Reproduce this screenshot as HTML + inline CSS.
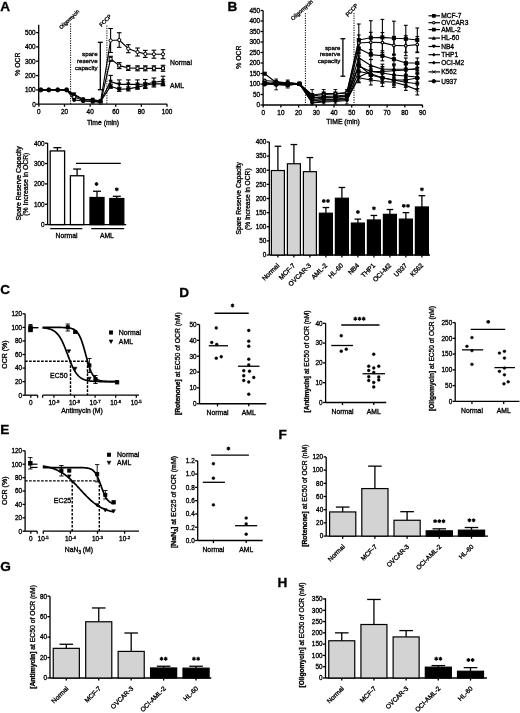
<!DOCTYPE html>
<html><head><meta charset="utf-8"><style>
html,body{margin:0;padding:0;background:#fff;overflow:hidden;}
#w{will-change:transform;width:520px;height:713px;}
svg{display:block;}
text{font-family:"Liberation Sans",sans-serif;fill:#000;stroke:#000;stroke-width:0.32px;}
</style></head><body><div id="w">
<svg width="520" height="713" viewBox="0 0 520 713">
<rect width="520" height="713" fill="#fff"/>
<text x="0.2" y="1.5" font-size="13.6" text-anchor="start" dy="0.72em" font-weight="bold">A</text>
<line x1="38.7" y1="24.8" x2="38.7" y2="104.2" stroke="#000" stroke-width="1.3"/>
<line x1="36.1" y1="104.2" x2="38.7" y2="104.2" stroke="#000" stroke-width="1.3"/>
<text x="35.7" y="104.2" font-size="6.4" text-anchor="end" dy="0.36em">0</text>
<line x1="36.1" y1="89.88" x2="38.7" y2="89.88" stroke="#000" stroke-width="1.3"/>
<text x="35.7" y="89.88" font-size="6.4" text-anchor="end" dy="0.36em">100</text>
<line x1="36.1" y1="75.56" x2="38.7" y2="75.56" stroke="#000" stroke-width="1.3"/>
<text x="35.7" y="75.56" font-size="6.4" text-anchor="end" dy="0.36em">200</text>
<line x1="36.1" y1="61.24" x2="38.7" y2="61.24" stroke="#000" stroke-width="1.3"/>
<text x="35.7" y="61.24" font-size="6.4" text-anchor="end" dy="0.36em">300</text>
<line x1="36.1" y1="46.92" x2="38.7" y2="46.92" stroke="#000" stroke-width="1.3"/>
<text x="35.7" y="46.92" font-size="6.4" text-anchor="end" dy="0.36em">400</text>
<line x1="36.1" y1="32.6" x2="38.7" y2="32.6" stroke="#000" stroke-width="1.3"/>
<text x="35.7" y="32.6" font-size="6.4" text-anchor="end" dy="0.36em">500</text>
<line x1="38.7" y1="104.2" x2="167.2" y2="104.2" stroke="#000" stroke-width="1.3"/>
<line x1="38.9" y1="104.2" x2="38.9" y2="106.8" stroke="#000" stroke-width="1.3"/>
<text x="38.9" y="111.4" font-size="6.4" text-anchor="middle" dy="0.36em">0</text>
<line x1="64.52" y1="104.2" x2="64.52" y2="106.8" stroke="#000" stroke-width="1.3"/>
<text x="64.52" y="111.4" font-size="6.4" text-anchor="middle" dy="0.36em">20</text>
<line x1="90.14" y1="104.2" x2="90.14" y2="106.8" stroke="#000" stroke-width="1.3"/>
<text x="90.14" y="111.4" font-size="6.4" text-anchor="middle" dy="0.36em">40</text>
<line x1="115.76" y1="104.2" x2="115.76" y2="106.8" stroke="#000" stroke-width="1.3"/>
<text x="115.76" y="111.4" font-size="6.4" text-anchor="middle" dy="0.36em">60</text>
<line x1="141.38" y1="104.2" x2="141.38" y2="106.8" stroke="#000" stroke-width="1.3"/>
<text x="141.38" y="111.4" font-size="6.4" text-anchor="middle" dy="0.36em">80</text>
<line x1="167" y1="104.2" x2="167" y2="106.8" stroke="#000" stroke-width="1.3"/>
<text x="167" y="111.4" font-size="6.4" text-anchor="middle" dy="0.36em">100</text>
<text x="103" y="122.4" font-size="6.8" text-anchor="middle" dy="0.36em">Time (min)</text>
<text x="0" y="0" font-size="6.8" text-anchor="middle" dy="0.36em" transform="translate(17.3,64.2) rotate(-90)">% OCR</text>
<line x1="70.6" y1="23.5" x2="70.6" y2="104.2" stroke="#000" stroke-width="1" stroke-dasharray="1.2,1.2"/>
<line x1="106.9" y1="25.5" x2="106.9" y2="104.2" stroke="#000" stroke-width="1" stroke-dasharray="1.2,1.2"/>
<text x="0" y="0" font-size="5.2" text-anchor="start" dy="0" transform="translate(61.2,29.6) rotate(-44)">Oligomycin</text>
<text x="0" y="0" font-size="5.4" text-anchor="start" dy="0" transform="translate(101.5,27) rotate(-45)">FCCP</text>
<line x1="100.3" y1="42.3" x2="100.3" y2="89.7" stroke="#000" stroke-width="1.3"/>
<line x1="97.8" y1="42.3" x2="102.8" y2="42.3" stroke="#000" stroke-width="1.3"/>
<line x1="97.8" y1="89.7" x2="102.8" y2="89.7" stroke="#000" stroke-width="1.3"/>
<text x="97.6" y="54.2" font-size="6.2" text-anchor="end" dy="0.36em">spare</text>
<text x="97.6" y="61.2" font-size="6.2" text-anchor="end" dy="0.36em">reserve</text>
<text x="97.6" y="68" font-size="6.2" text-anchor="end" dy="0.36em">capacity</text>
<text x="170" y="62.6" font-size="6.8" text-anchor="start" dy="0.36em">Normal</text>
<text x="170" y="85.8" font-size="6.8" text-anchor="start" dy="0.36em">AML</text>
<polyline points="40.8,89.88 48.8,89.88 57.7,89.88 66.6,89.88 74.2,95.5 83.2,99.2 92.7,100.2 100.6,101.5 110.6,40.5 119.2,40 128.3,48.7 137.5,52 145.3,53.9 153.9,54.2 163,54.2" fill="none" stroke="#000" stroke-width="1.15" stroke-linejoin="round"/>
<line x1="110.6" y1="28.5" x2="110.6" y2="52.5" stroke="#000" stroke-width="1.1"/>
<line x1="108.3" y1="28.5" x2="112.9" y2="28.5" stroke="#000" stroke-width="1.1"/>
<line x1="108.3" y1="52.5" x2="112.9" y2="52.5" stroke="#000" stroke-width="1.1"/>
<line x1="119.2" y1="32.7" x2="119.2" y2="47.3" stroke="#000" stroke-width="1.1"/>
<line x1="116.9" y1="32.7" x2="121.5" y2="32.7" stroke="#000" stroke-width="1.1"/>
<line x1="116.9" y1="47.3" x2="121.5" y2="47.3" stroke="#000" stroke-width="1.1"/>
<line x1="128.3" y1="44.7" x2="128.3" y2="52.7" stroke="#000" stroke-width="1.1"/>
<line x1="126" y1="44.7" x2="130.6" y2="44.7" stroke="#000" stroke-width="1.1"/>
<line x1="126" y1="52.7" x2="130.6" y2="52.7" stroke="#000" stroke-width="1.1"/>
<line x1="137.5" y1="48" x2="137.5" y2="56" stroke="#000" stroke-width="1.1"/>
<line x1="135.2" y1="48" x2="139.8" y2="48" stroke="#000" stroke-width="1.1"/>
<line x1="135.2" y1="56" x2="139.8" y2="56" stroke="#000" stroke-width="1.1"/>
<line x1="145.3" y1="50.4" x2="145.3" y2="57.4" stroke="#000" stroke-width="1.1"/>
<line x1="143" y1="50.4" x2="147.6" y2="50.4" stroke="#000" stroke-width="1.1"/>
<line x1="143" y1="57.4" x2="147.6" y2="57.4" stroke="#000" stroke-width="1.1"/>
<line x1="153.9" y1="50.2" x2="153.9" y2="58.2" stroke="#000" stroke-width="1.1"/>
<line x1="151.6" y1="50.2" x2="156.2" y2="50.2" stroke="#000" stroke-width="1.1"/>
<line x1="151.6" y1="58.2" x2="156.2" y2="58.2" stroke="#000" stroke-width="1.1"/>
<line x1="163" y1="49.7" x2="163" y2="58.7" stroke="#000" stroke-width="1.1"/>
<line x1="160.7" y1="49.7" x2="165.3" y2="49.7" stroke="#000" stroke-width="1.1"/>
<line x1="160.7" y1="58.7" x2="165.3" y2="58.7" stroke="#000" stroke-width="1.1"/>
<polyline points="40.8,89.88 48.8,89.88 57.7,89.88 66.6,89.88 74.2,97 83.2,100.5 92.7,101.5 100.6,102.5 110.6,58.8 119.2,65.6 128.3,67.9 137.5,68.3 145.3,68.3 153.9,68.3 163,68.3" fill="none" stroke="#000" stroke-width="1.15" stroke-linejoin="round"/>
<line x1="110.6" y1="56.3" x2="110.6" y2="61.3" stroke="#000" stroke-width="1.1"/>
<line x1="108.3" y1="56.3" x2="112.9" y2="56.3" stroke="#000" stroke-width="1.1"/>
<line x1="108.3" y1="61.3" x2="112.9" y2="61.3" stroke="#000" stroke-width="1.1"/>
<line x1="119.2" y1="62.6" x2="119.2" y2="68.6" stroke="#000" stroke-width="1.1"/>
<line x1="116.9" y1="62.6" x2="121.5" y2="62.6" stroke="#000" stroke-width="1.1"/>
<line x1="116.9" y1="68.6" x2="121.5" y2="68.6" stroke="#000" stroke-width="1.1"/>
<line x1="128.3" y1="65.4" x2="128.3" y2="70.4" stroke="#000" stroke-width="1.1"/>
<line x1="126" y1="65.4" x2="130.6" y2="65.4" stroke="#000" stroke-width="1.1"/>
<line x1="126" y1="70.4" x2="130.6" y2="70.4" stroke="#000" stroke-width="1.1"/>
<line x1="137.5" y1="65.8" x2="137.5" y2="70.8" stroke="#000" stroke-width="1.1"/>
<line x1="135.2" y1="65.8" x2="139.8" y2="65.8" stroke="#000" stroke-width="1.1"/>
<line x1="135.2" y1="70.8" x2="139.8" y2="70.8" stroke="#000" stroke-width="1.1"/>
<line x1="145.3" y1="65.8" x2="145.3" y2="70.8" stroke="#000" stroke-width="1.1"/>
<line x1="143" y1="65.8" x2="147.6" y2="65.8" stroke="#000" stroke-width="1.1"/>
<line x1="143" y1="70.8" x2="147.6" y2="70.8" stroke="#000" stroke-width="1.1"/>
<line x1="153.9" y1="65.8" x2="153.9" y2="70.8" stroke="#000" stroke-width="1.1"/>
<line x1="151.6" y1="65.8" x2="156.2" y2="65.8" stroke="#000" stroke-width="1.1"/>
<line x1="151.6" y1="70.8" x2="156.2" y2="70.8" stroke="#000" stroke-width="1.1"/>
<line x1="163" y1="65.3" x2="163" y2="71.3" stroke="#000" stroke-width="1.1"/>
<line x1="160.7" y1="65.3" x2="165.3" y2="65.3" stroke="#000" stroke-width="1.1"/>
<line x1="160.7" y1="71.3" x2="165.3" y2="71.3" stroke="#000" stroke-width="1.1"/>
<polyline points="40.8,89.88 48.8,89.88 57.7,89.88 66.6,89.88 74.2,94.3 83.2,99.5 92.7,99.6 100.6,101 110.6,81.6 119.2,84.4 128.3,84.4 137.5,84.4 145.3,84 153.9,82.5 163,80.7" fill="none" stroke="#000" stroke-width="1.15" stroke-linejoin="round"/>
<line x1="110.6" y1="75.4" x2="110.6" y2="87.8" stroke="#000" stroke-width="1.1"/>
<line x1="108.3" y1="75.4" x2="112.9" y2="75.4" stroke="#000" stroke-width="1.1"/>
<line x1="108.3" y1="87.8" x2="112.9" y2="87.8" stroke="#000" stroke-width="1.1"/>
<line x1="119.2" y1="79.9" x2="119.2" y2="88.9" stroke="#000" stroke-width="1.1"/>
<line x1="116.9" y1="79.9" x2="121.5" y2="79.9" stroke="#000" stroke-width="1.1"/>
<line x1="116.9" y1="88.9" x2="121.5" y2="88.9" stroke="#000" stroke-width="1.1"/>
<line x1="128.3" y1="79.9" x2="128.3" y2="88.9" stroke="#000" stroke-width="1.1"/>
<line x1="126" y1="79.9" x2="130.6" y2="79.9" stroke="#000" stroke-width="1.1"/>
<line x1="126" y1="88.9" x2="130.6" y2="88.9" stroke="#000" stroke-width="1.1"/>
<line x1="137.5" y1="79.9" x2="137.5" y2="88.9" stroke="#000" stroke-width="1.1"/>
<line x1="135.2" y1="79.9" x2="139.8" y2="79.9" stroke="#000" stroke-width="1.1"/>
<line x1="135.2" y1="88.9" x2="139.8" y2="88.9" stroke="#000" stroke-width="1.1"/>
<line x1="145.3" y1="79.5" x2="145.3" y2="88.5" stroke="#000" stroke-width="1.1"/>
<line x1="143" y1="79.5" x2="147.6" y2="79.5" stroke="#000" stroke-width="1.1"/>
<line x1="143" y1="88.5" x2="147.6" y2="88.5" stroke="#000" stroke-width="1.1"/>
<line x1="153.9" y1="78" x2="153.9" y2="87" stroke="#000" stroke-width="1.1"/>
<line x1="151.6" y1="78" x2="156.2" y2="78" stroke="#000" stroke-width="1.1"/>
<line x1="151.6" y1="87" x2="156.2" y2="87" stroke="#000" stroke-width="1.1"/>
<line x1="163" y1="76.2" x2="163" y2="85.2" stroke="#000" stroke-width="1.1"/>
<line x1="160.7" y1="76.2" x2="165.3" y2="76.2" stroke="#000" stroke-width="1.1"/>
<line x1="160.7" y1="85.2" x2="165.3" y2="85.2" stroke="#000" stroke-width="1.1"/>
<polyline points="40.8,89.88 48.8,89.88 57.7,89.88 66.6,89.88 74.2,100 83.2,101 92.7,101.5 100.6,101.5 110.6,86.2 119.2,89.3 128.3,88.9 137.5,87.1 145.3,85.3 153.9,83.8 163,83.8" fill="none" stroke="#000" stroke-width="1.15" stroke-linejoin="round"/>
<line x1="110.6" y1="84.2" x2="110.6" y2="88.2" stroke="#000" stroke-width="1.1"/>
<line x1="108.3" y1="84.2" x2="112.9" y2="84.2" stroke="#000" stroke-width="1.1"/>
<line x1="108.3" y1="88.2" x2="112.9" y2="88.2" stroke="#000" stroke-width="1.1"/>
<line x1="119.2" y1="87.3" x2="119.2" y2="91.3" stroke="#000" stroke-width="1.1"/>
<line x1="116.9" y1="87.3" x2="121.5" y2="87.3" stroke="#000" stroke-width="1.1"/>
<line x1="116.9" y1="91.3" x2="121.5" y2="91.3" stroke="#000" stroke-width="1.1"/>
<line x1="128.3" y1="86.9" x2="128.3" y2="90.9" stroke="#000" stroke-width="1.1"/>
<line x1="126" y1="86.9" x2="130.6" y2="86.9" stroke="#000" stroke-width="1.1"/>
<line x1="126" y1="90.9" x2="130.6" y2="90.9" stroke="#000" stroke-width="1.1"/>
<line x1="137.5" y1="85.1" x2="137.5" y2="89.1" stroke="#000" stroke-width="1.1"/>
<line x1="135.2" y1="85.1" x2="139.8" y2="85.1" stroke="#000" stroke-width="1.1"/>
<line x1="135.2" y1="89.1" x2="139.8" y2="89.1" stroke="#000" stroke-width="1.1"/>
<line x1="145.3" y1="83.3" x2="145.3" y2="87.3" stroke="#000" stroke-width="1.1"/>
<line x1="143" y1="83.3" x2="147.6" y2="83.3" stroke="#000" stroke-width="1.1"/>
<line x1="143" y1="87.3" x2="147.6" y2="87.3" stroke="#000" stroke-width="1.1"/>
<line x1="153.9" y1="81.8" x2="153.9" y2="85.8" stroke="#000" stroke-width="1.1"/>
<line x1="151.6" y1="81.8" x2="156.2" y2="81.8" stroke="#000" stroke-width="1.1"/>
<line x1="151.6" y1="85.8" x2="156.2" y2="85.8" stroke="#000" stroke-width="1.1"/>
<line x1="163" y1="81.8" x2="163" y2="85.8" stroke="#000" stroke-width="1.1"/>
<line x1="160.7" y1="81.8" x2="165.3" y2="81.8" stroke="#000" stroke-width="1.1"/>
<line x1="160.7" y1="85.8" x2="165.3" y2="85.8" stroke="#000" stroke-width="1.1"/>
<circle cx="40.8" cy="89.88" r="2.1" fill="#000" stroke="#000" stroke-width="0.9"/>
<circle cx="48.8" cy="89.88" r="2.1" fill="#000" stroke="#000" stroke-width="0.9"/>
<circle cx="57.7" cy="89.88" r="2.1" fill="#000" stroke="#000" stroke-width="0.9"/>
<circle cx="66.6" cy="89.88" r="2.1" fill="#000" stroke="#000" stroke-width="0.9"/>
<circle cx="74.2" cy="95.5" r="1.6" fill="#fff" stroke="#000" stroke-width="1"/>
<circle cx="83.2" cy="99.2" r="1.6" fill="#fff" stroke="#000" stroke-width="1"/>
<circle cx="92.7" cy="100.2" r="1.6" fill="#fff" stroke="#000" stroke-width="1"/>
<circle cx="100.6" cy="101.5" r="1.6" fill="#fff" stroke="#000" stroke-width="1"/>
<circle cx="110.6" cy="40.5" r="1.6" fill="#fff" stroke="#000" stroke-width="1"/>
<circle cx="119.2" cy="40" r="1.6" fill="#fff" stroke="#000" stroke-width="1"/>
<circle cx="128.3" cy="48.7" r="1.6" fill="#fff" stroke="#000" stroke-width="1"/>
<circle cx="137.5" cy="52" r="1.6" fill="#fff" stroke="#000" stroke-width="1"/>
<circle cx="145.3" cy="53.9" r="1.6" fill="#fff" stroke="#000" stroke-width="1"/>
<circle cx="153.9" cy="54.2" r="1.6" fill="#fff" stroke="#000" stroke-width="1"/>
<circle cx="163" cy="54.2" r="1.6" fill="#fff" stroke="#000" stroke-width="1"/>
<rect x="72.75" y="95.55" width="2.9" height="2.9" fill="#fff" stroke="#000" stroke-width="1"/>
<rect x="81.75" y="99.05" width="2.9" height="2.9" fill="#fff" stroke="#000" stroke-width="1"/>
<rect x="91.25" y="100.05" width="2.9" height="2.9" fill="#fff" stroke="#000" stroke-width="1"/>
<rect x="99.15" y="101.05" width="2.9" height="2.9" fill="#fff" stroke="#000" stroke-width="1"/>
<rect x="109.15" y="57.35" width="2.9" height="2.9" fill="#fff" stroke="#000" stroke-width="1"/>
<rect x="117.75" y="64.15" width="2.9" height="2.9" fill="#fff" stroke="#000" stroke-width="1"/>
<rect x="126.85" y="66.45" width="2.9" height="2.9" fill="#fff" stroke="#000" stroke-width="1"/>
<rect x="136.05" y="66.85" width="2.9" height="2.9" fill="#fff" stroke="#000" stroke-width="1"/>
<rect x="143.85" y="66.85" width="2.9" height="2.9" fill="#fff" stroke="#000" stroke-width="1"/>
<rect x="152.45" y="66.85" width="2.9" height="2.9" fill="#fff" stroke="#000" stroke-width="1"/>
<rect x="161.55" y="66.85" width="2.9" height="2.9" fill="#fff" stroke="#000" stroke-width="1"/>
<path d="M72.4 92.68L76 92.68L74.2 95.92Z" fill="#000" stroke="#000" stroke-width="0.6"/>
<path d="M81.4 97.88L85 97.88L83.2 101.12Z" fill="#000" stroke="#000" stroke-width="0.6"/>
<path d="M90.9 97.98L94.5 97.98L92.7 101.22Z" fill="#000" stroke="#000" stroke-width="0.6"/>
<path d="M98.8 99.38L102.4 99.38L100.6 102.62Z" fill="#000" stroke="#000" stroke-width="0.6"/>
<path d="M108.8 79.98L112.4 79.98L110.6 83.22Z" fill="#000" stroke="#000" stroke-width="0.6"/>
<path d="M117.4 82.78L121 82.78L119.2 86.02Z" fill="#000" stroke="#000" stroke-width="0.6"/>
<path d="M126.5 82.78L130.1 82.78L128.3 86.02Z" fill="#000" stroke="#000" stroke-width="0.6"/>
<path d="M135.7 82.78L139.3 82.78L137.5 86.02Z" fill="#000" stroke="#000" stroke-width="0.6"/>
<path d="M143.5 82.38L147.1 82.38L145.3 85.62Z" fill="#000" stroke="#000" stroke-width="0.6"/>
<path d="M152.1 80.88L155.7 80.88L153.9 84.12Z" fill="#000" stroke="#000" stroke-width="0.6"/>
<path d="M161.2 79.08L164.8 79.08L163 82.32Z" fill="#000" stroke="#000" stroke-width="0.6"/>
<circle cx="74.2" cy="100" r="1.6" fill="#000" stroke="#000" stroke-width="0.9"/>
<circle cx="83.2" cy="101" r="1.6" fill="#000" stroke="#000" stroke-width="0.9"/>
<circle cx="92.7" cy="101.5" r="1.6" fill="#000" stroke="#000" stroke-width="0.9"/>
<circle cx="100.6" cy="101.5" r="1.6" fill="#000" stroke="#000" stroke-width="0.9"/>
<circle cx="110.6" cy="86.2" r="1.6" fill="#000" stroke="#000" stroke-width="0.9"/>
<circle cx="119.2" cy="89.3" r="1.6" fill="#000" stroke="#000" stroke-width="0.9"/>
<circle cx="128.3" cy="88.9" r="1.6" fill="#000" stroke="#000" stroke-width="0.9"/>
<circle cx="137.5" cy="87.1" r="1.6" fill="#000" stroke="#000" stroke-width="0.9"/>
<circle cx="145.3" cy="85.3" r="1.6" fill="#000" stroke="#000" stroke-width="0.9"/>
<circle cx="153.9" cy="83.8" r="1.6" fill="#000" stroke="#000" stroke-width="0.9"/>
<circle cx="163" cy="83.8" r="1.6" fill="#000" stroke="#000" stroke-width="0.9"/>
<line x1="47.6" y1="143" x2="47.6" y2="224.6" stroke="#000" stroke-width="1.3"/>
<line x1="45" y1="224.6" x2="47.6" y2="224.6" stroke="#000" stroke-width="1.3"/>
<text x="44.6" y="224.6" font-size="6.4" text-anchor="end" dy="0.36em">0</text>
<line x1="45" y1="204.25" x2="47.6" y2="204.25" stroke="#000" stroke-width="1.3"/>
<text x="44.6" y="204.25" font-size="6.4" text-anchor="end" dy="0.36em">100</text>
<line x1="45" y1="183.9" x2="47.6" y2="183.9" stroke="#000" stroke-width="1.3"/>
<text x="44.6" y="183.9" font-size="6.4" text-anchor="end" dy="0.36em">200</text>
<line x1="45" y1="163.55" x2="47.6" y2="163.55" stroke="#000" stroke-width="1.3"/>
<text x="44.6" y="163.55" font-size="6.4" text-anchor="end" dy="0.36em">300</text>
<line x1="45" y1="143.2" x2="47.6" y2="143.2" stroke="#000" stroke-width="1.3"/>
<text x="44.6" y="143.2" font-size="6.4" text-anchor="end" dy="0.36em">400</text>
<line x1="47.6" y1="224.6" x2="126.2" y2="224.6" stroke="#000" stroke-width="1.3"/>
<line x1="57.4" y1="150.93" x2="57.4" y2="147.68" stroke="#000" stroke-width="1.3"/>
<line x1="53.4" y1="147.68" x2="61.4" y2="147.68" stroke="#000" stroke-width="1.3"/>
<rect x="50.2" y="150.93" width="14.4" height="73.67" fill="#fff" stroke="#000" stroke-width="1.3"/>
<line x1="77.1" y1="175.76" x2="77.1" y2="169.04" stroke="#000" stroke-width="1.3"/>
<line x1="73.1" y1="169.04" x2="81.1" y2="169.04" stroke="#000" stroke-width="1.3"/>
<rect x="70.4" y="175.76" width="13.4" height="48.84" fill="#fff" stroke="#000" stroke-width="1.3"/>
<line x1="97" y1="197.53" x2="97" y2="191.23" stroke="#000" stroke-width="1.3"/>
<line x1="93" y1="191.23" x2="101" y2="191.23" stroke="#000" stroke-width="1.3"/>
<rect x="90" y="197.53" width="14" height="27.07" fill="#000" stroke="#000" stroke-width="1.3"/>
<line x1="116.8" y1="198.55" x2="116.8" y2="196.31" stroke="#000" stroke-width="1.3"/>
<line x1="112.8" y1="196.31" x2="120.8" y2="196.31" stroke="#000" stroke-width="1.3"/>
<rect x="109.8" y="198.55" width="14" height="26.05" fill="#000" stroke="#000" stroke-width="1.3"/>
<line x1="76" y1="163.3" x2="120.8" y2="163.3" stroke="#000" stroke-width="1.2"/>
<line x1="96.5" y1="182.1" x2="96.5" y2="185.9" stroke="#000" stroke-width="1.25"/>
<line x1="94.85" y1="183.05" x2="98.15" y2="184.95" stroke="#000" stroke-width="1.25"/>
<line x1="94.85" y1="184.95" x2="98.15" y2="183.05" stroke="#000" stroke-width="1.25"/>
<line x1="116.8" y1="187.4" x2="116.8" y2="191.2" stroke="#000" stroke-width="1.25"/>
<line x1="115.15" y1="188.35" x2="118.45" y2="190.25" stroke="#000" stroke-width="1.25"/>
<line x1="115.15" y1="190.25" x2="118.45" y2="188.35" stroke="#000" stroke-width="1.25"/>
<line x1="50.2" y1="228.6" x2="82.3" y2="228.6" stroke="#000" stroke-width="1.3"/>
<line x1="91.2" y1="228.6" x2="124.2" y2="228.6" stroke="#000" stroke-width="1.3"/>
<text x="66.5" y="235.8" font-size="6.8" text-anchor="middle" dy="0.36em">Normal</text>
<text x="106.9" y="235.8" font-size="6.8" text-anchor="middle" dy="0.36em">AML</text>
<text x="0" y="0" font-size="6.85" text-anchor="middle" dy="0.36em" transform="translate(18.4,183.4) rotate(-90)">Spare Reserve Capacity</text>
<text x="0" y="0" font-size="6.85" text-anchor="middle" dy="0.36em" transform="translate(26,184.2) rotate(-90)">(% Increase in OCR)</text>
<text x="227.5" y="1" font-size="13.6" text-anchor="start" dy="0.72em" font-weight="bold">B</text>
<line x1="263.1" y1="10.5" x2="263.1" y2="105" stroke="#000" stroke-width="1.3"/>
<line x1="260.5" y1="105" x2="263.1" y2="105" stroke="#000" stroke-width="1.3"/>
<text x="260.1" y="105" font-size="6.4" text-anchor="end" dy="0.36em">0</text>
<line x1="260.5" y1="94.5" x2="263.1" y2="94.5" stroke="#000" stroke-width="1.3"/>
<text x="260.1" y="94.5" font-size="6.4" text-anchor="end" dy="0.36em">50</text>
<line x1="260.5" y1="84" x2="263.1" y2="84" stroke="#000" stroke-width="1.3"/>
<text x="260.1" y="84" font-size="6.4" text-anchor="end" dy="0.36em">100</text>
<line x1="260.5" y1="73.5" x2="263.1" y2="73.5" stroke="#000" stroke-width="1.3"/>
<text x="260.1" y="73.5" font-size="6.4" text-anchor="end" dy="0.36em">150</text>
<line x1="260.5" y1="63" x2="263.1" y2="63" stroke="#000" stroke-width="1.3"/>
<text x="260.1" y="63" font-size="6.4" text-anchor="end" dy="0.36em">200</text>
<line x1="260.5" y1="52.5" x2="263.1" y2="52.5" stroke="#000" stroke-width="1.3"/>
<text x="260.1" y="52.5" font-size="6.4" text-anchor="end" dy="0.36em">250</text>
<line x1="260.5" y1="42" x2="263.1" y2="42" stroke="#000" stroke-width="1.3"/>
<text x="260.1" y="42" font-size="6.4" text-anchor="end" dy="0.36em">300</text>
<line x1="260.5" y1="31.5" x2="263.1" y2="31.5" stroke="#000" stroke-width="1.3"/>
<text x="260.1" y="31.5" font-size="6.4" text-anchor="end" dy="0.36em">350</text>
<line x1="260.5" y1="21" x2="263.1" y2="21" stroke="#000" stroke-width="1.3"/>
<text x="260.1" y="21" font-size="6.4" text-anchor="end" dy="0.36em">400</text>
<line x1="260.5" y1="10.5" x2="263.1" y2="10.5" stroke="#000" stroke-width="1.3"/>
<text x="260.1" y="10.5" font-size="6.4" text-anchor="end" dy="0.36em">450</text>
<line x1="263.1" y1="105" x2="422.6" y2="105" stroke="#000" stroke-width="1.3"/>
<line x1="263.2" y1="105" x2="263.2" y2="107.6" stroke="#000" stroke-width="1.3"/>
<text x="263.2" y="112.2" font-size="6.4" text-anchor="middle" dy="0.36em">0</text>
<line x1="280.9" y1="105" x2="280.9" y2="107.6" stroke="#000" stroke-width="1.3"/>
<text x="280.9" y="112.2" font-size="6.4" text-anchor="middle" dy="0.36em">10</text>
<line x1="298.6" y1="105" x2="298.6" y2="107.6" stroke="#000" stroke-width="1.3"/>
<text x="298.6" y="112.2" font-size="6.4" text-anchor="middle" dy="0.36em">20</text>
<line x1="316.3" y1="105" x2="316.3" y2="107.6" stroke="#000" stroke-width="1.3"/>
<text x="316.3" y="112.2" font-size="6.4" text-anchor="middle" dy="0.36em">30</text>
<line x1="334" y1="105" x2="334" y2="107.6" stroke="#000" stroke-width="1.3"/>
<text x="334" y="112.2" font-size="6.4" text-anchor="middle" dy="0.36em">40</text>
<line x1="351.7" y1="105" x2="351.7" y2="107.6" stroke="#000" stroke-width="1.3"/>
<text x="351.7" y="112.2" font-size="6.4" text-anchor="middle" dy="0.36em">50</text>
<line x1="369.4" y1="105" x2="369.4" y2="107.6" stroke="#000" stroke-width="1.3"/>
<text x="369.4" y="112.2" font-size="6.4" text-anchor="middle" dy="0.36em">60</text>
<line x1="387.1" y1="105" x2="387.1" y2="107.6" stroke="#000" stroke-width="1.3"/>
<text x="387.1" y="112.2" font-size="6.4" text-anchor="middle" dy="0.36em">70</text>
<line x1="404.8" y1="105" x2="404.8" y2="107.6" stroke="#000" stroke-width="1.3"/>
<text x="404.8" y="112.2" font-size="6.4" text-anchor="middle" dy="0.36em">80</text>
<line x1="422.5" y1="105" x2="422.5" y2="107.6" stroke="#000" stroke-width="1.3"/>
<text x="422.5" y="112.2" font-size="6.4" text-anchor="middle" dy="0.36em">90</text>
<text x="343" y="122" font-size="6.8" text-anchor="middle" dy="0.36em">TIME (min)</text>
<text x="0" y="0" font-size="6.8" text-anchor="middle" dy="0.36em" transform="translate(239,57.2) rotate(-90)">% OCR</text>
<line x1="305.4" y1="13" x2="305.4" y2="105" stroke="#000" stroke-width="1" stroke-dasharray="1.2,1.2"/>
<line x1="354" y1="13" x2="354" y2="105" stroke="#000" stroke-width="1" stroke-dasharray="1.2,1.2"/>
<text x="0" y="0" font-size="5.6" text-anchor="start" dy="0" transform="translate(293,20.8) rotate(-42.5)">Oligomycin</text>
<text x="0" y="0" font-size="5.6" text-anchor="start" dy="0" transform="translate(348,17) rotate(-47)">FCCP</text>
<line x1="342.9" y1="38.7" x2="342.9" y2="76.2" stroke="#000" stroke-width="1.3"/>
<line x1="340.5" y1="38.7" x2="345.3" y2="38.7" stroke="#000" stroke-width="1.3"/>
<line x1="340.5" y1="76.2" x2="345.3" y2="76.2" stroke="#000" stroke-width="1.3"/>
<text x="340.4" y="47.3" font-size="6.2" text-anchor="end" dy="0.36em">spare</text>
<text x="340.4" y="54" font-size="6.2" text-anchor="end" dy="0.36em">reserve</text>
<text x="340.4" y="60.7" font-size="6.2" text-anchor="end" dy="0.36em">capacity</text>
<polyline points="264.7,73.7 276.2,82.5 287.7,84.5 299.4,83.8 312.2,95 323.7,93.5 335.4,93.5 346.9,92.5 358.8,40 370.8,37.7 382.4,37.4 393.9,38.2 405.8,38.8 417.3,40" fill="none" stroke="#000" stroke-width="1.15" stroke-linejoin="round"/>
<line x1="358.8" y1="24" x2="358.8" y2="56" stroke="#000" stroke-width="1.1"/>
<line x1="356.9" y1="24" x2="360.7" y2="24" stroke="#000" stroke-width="1.1"/>
<line x1="356.9" y1="56" x2="360.7" y2="56" stroke="#000" stroke-width="1.1"/>
<line x1="370.8" y1="20.7" x2="370.8" y2="54.7" stroke="#000" stroke-width="1.1"/>
<line x1="368.9" y1="20.7" x2="372.7" y2="20.7" stroke="#000" stroke-width="1.1"/>
<line x1="368.9" y1="54.7" x2="372.7" y2="54.7" stroke="#000" stroke-width="1.1"/>
<line x1="382.4" y1="19.4" x2="382.4" y2="55.4" stroke="#000" stroke-width="1.1"/>
<line x1="380.5" y1="19.4" x2="384.3" y2="19.4" stroke="#000" stroke-width="1.1"/>
<line x1="380.5" y1="55.4" x2="384.3" y2="55.4" stroke="#000" stroke-width="1.1"/>
<line x1="393.9" y1="21.2" x2="393.9" y2="55.2" stroke="#000" stroke-width="1.1"/>
<line x1="392" y1="21.2" x2="395.8" y2="21.2" stroke="#000" stroke-width="1.1"/>
<line x1="392" y1="55.2" x2="395.8" y2="55.2" stroke="#000" stroke-width="1.1"/>
<line x1="405.8" y1="25.3" x2="405.8" y2="52.3" stroke="#000" stroke-width="1.1"/>
<line x1="403.9" y1="25.3" x2="407.7" y2="25.3" stroke="#000" stroke-width="1.1"/>
<line x1="403.9" y1="52.3" x2="407.7" y2="52.3" stroke="#000" stroke-width="1.1"/>
<line x1="417.3" y1="28" x2="417.3" y2="52" stroke="#000" stroke-width="1.1"/>
<line x1="415.4" y1="28" x2="419.2" y2="28" stroke="#000" stroke-width="1.1"/>
<line x1="415.4" y1="52" x2="419.2" y2="52" stroke="#000" stroke-width="1.1"/>
<polyline points="264.7,80.5 276.2,81.5 287.7,83 299.4,83.8 312.2,96 323.7,94.5 335.4,94 346.9,93 358.8,43 370.8,42.3 382.4,42.6 393.9,45.4 405.8,45.7 417.3,44.6" fill="none" stroke="#000" stroke-width="1.15" stroke-linejoin="round"/>
<line x1="358.8" y1="35" x2="358.8" y2="51" stroke="#000" stroke-width="1.1"/>
<line x1="356.9" y1="35" x2="360.7" y2="35" stroke="#000" stroke-width="1.1"/>
<line x1="356.9" y1="51" x2="360.7" y2="51" stroke="#000" stroke-width="1.1"/>
<line x1="370.8" y1="32.3" x2="370.8" y2="52.3" stroke="#000" stroke-width="1.1"/>
<line x1="368.9" y1="32.3" x2="372.7" y2="32.3" stroke="#000" stroke-width="1.1"/>
<line x1="368.9" y1="52.3" x2="372.7" y2="52.3" stroke="#000" stroke-width="1.1"/>
<line x1="382.4" y1="32.6" x2="382.4" y2="52.6" stroke="#000" stroke-width="1.1"/>
<line x1="380.5" y1="32.6" x2="384.3" y2="32.6" stroke="#000" stroke-width="1.1"/>
<line x1="380.5" y1="52.6" x2="384.3" y2="52.6" stroke="#000" stroke-width="1.1"/>
<line x1="393.9" y1="36.4" x2="393.9" y2="54.4" stroke="#000" stroke-width="1.1"/>
<line x1="392" y1="36.4" x2="395.8" y2="36.4" stroke="#000" stroke-width="1.1"/>
<line x1="392" y1="54.4" x2="395.8" y2="54.4" stroke="#000" stroke-width="1.1"/>
<line x1="405.8" y1="35.7" x2="405.8" y2="55.7" stroke="#000" stroke-width="1.1"/>
<line x1="403.9" y1="35.7" x2="407.7" y2="35.7" stroke="#000" stroke-width="1.1"/>
<line x1="403.9" y1="55.7" x2="407.7" y2="55.7" stroke="#000" stroke-width="1.1"/>
<line x1="417.3" y1="36.6" x2="417.3" y2="52.6" stroke="#000" stroke-width="1.1"/>
<line x1="415.4" y1="36.6" x2="419.2" y2="36.6" stroke="#000" stroke-width="1.1"/>
<line x1="415.4" y1="52.6" x2="419.2" y2="52.6" stroke="#000" stroke-width="1.1"/>
<polyline points="264.7,83 276.2,83.5 287.7,84 299.4,83.8 312.2,98 323.7,96.5 335.4,96 346.9,95 358.8,48.5 370.8,54.6 382.4,55.8 393.9,59.2 405.8,63 417.3,63" fill="none" stroke="#000" stroke-width="1.15" stroke-linejoin="round"/>
<line x1="358.8" y1="43.5" x2="358.8" y2="53.5" stroke="#000" stroke-width="1.1"/>
<line x1="356.9" y1="43.5" x2="360.7" y2="43.5" stroke="#000" stroke-width="1.1"/>
<line x1="356.9" y1="53.5" x2="360.7" y2="53.5" stroke="#000" stroke-width="1.1"/>
<line x1="370.8" y1="49.6" x2="370.8" y2="59.6" stroke="#000" stroke-width="1.1"/>
<line x1="368.9" y1="49.6" x2="372.7" y2="49.6" stroke="#000" stroke-width="1.1"/>
<line x1="368.9" y1="59.6" x2="372.7" y2="59.6" stroke="#000" stroke-width="1.1"/>
<line x1="382.4" y1="50.8" x2="382.4" y2="60.8" stroke="#000" stroke-width="1.1"/>
<line x1="380.5" y1="50.8" x2="384.3" y2="50.8" stroke="#000" stroke-width="1.1"/>
<line x1="380.5" y1="60.8" x2="384.3" y2="60.8" stroke="#000" stroke-width="1.1"/>
<line x1="393.9" y1="54.2" x2="393.9" y2="64.2" stroke="#000" stroke-width="1.1"/>
<line x1="392" y1="54.2" x2="395.8" y2="54.2" stroke="#000" stroke-width="1.1"/>
<line x1="392" y1="64.2" x2="395.8" y2="64.2" stroke="#000" stroke-width="1.1"/>
<line x1="405.8" y1="58" x2="405.8" y2="68" stroke="#000" stroke-width="1.1"/>
<line x1="403.9" y1="58" x2="407.7" y2="58" stroke="#000" stroke-width="1.1"/>
<line x1="403.9" y1="68" x2="407.7" y2="68" stroke="#000" stroke-width="1.1"/>
<line x1="417.3" y1="58" x2="417.3" y2="68" stroke="#000" stroke-width="1.1"/>
<line x1="415.4" y1="58" x2="419.2" y2="58" stroke="#000" stroke-width="1.1"/>
<line x1="415.4" y1="68" x2="419.2" y2="68" stroke="#000" stroke-width="1.1"/>
<polyline points="264.7,82 276.2,84.5 287.7,85 299.4,83.8 312.2,99.5 323.7,98 335.4,97.5 346.9,96.5 358.8,57.7 370.8,65.4 382.4,69.2 393.9,69.2 405.8,69.2 417.3,69.2" fill="none" stroke="#000" stroke-width="1.15" stroke-linejoin="round"/>
<line x1="358.8" y1="52.7" x2="358.8" y2="62.7" stroke="#000" stroke-width="1.1"/>
<line x1="356.9" y1="52.7" x2="360.7" y2="52.7" stroke="#000" stroke-width="1.1"/>
<line x1="356.9" y1="62.7" x2="360.7" y2="62.7" stroke="#000" stroke-width="1.1"/>
<line x1="370.8" y1="59.4" x2="370.8" y2="71.4" stroke="#000" stroke-width="1.1"/>
<line x1="368.9" y1="59.4" x2="372.7" y2="59.4" stroke="#000" stroke-width="1.1"/>
<line x1="368.9" y1="71.4" x2="372.7" y2="71.4" stroke="#000" stroke-width="1.1"/>
<line x1="382.4" y1="64.2" x2="382.4" y2="74.2" stroke="#000" stroke-width="1.1"/>
<line x1="380.5" y1="64.2" x2="384.3" y2="64.2" stroke="#000" stroke-width="1.1"/>
<line x1="380.5" y1="74.2" x2="384.3" y2="74.2" stroke="#000" stroke-width="1.1"/>
<line x1="393.9" y1="64.2" x2="393.9" y2="74.2" stroke="#000" stroke-width="1.1"/>
<line x1="392" y1="64.2" x2="395.8" y2="64.2" stroke="#000" stroke-width="1.1"/>
<line x1="392" y1="74.2" x2="395.8" y2="74.2" stroke="#000" stroke-width="1.1"/>
<line x1="405.8" y1="64.2" x2="405.8" y2="74.2" stroke="#000" stroke-width="1.1"/>
<line x1="403.9" y1="64.2" x2="407.7" y2="64.2" stroke="#000" stroke-width="1.1"/>
<line x1="403.9" y1="74.2" x2="407.7" y2="74.2" stroke="#000" stroke-width="1.1"/>
<line x1="417.3" y1="64.2" x2="417.3" y2="74.2" stroke="#000" stroke-width="1.1"/>
<line x1="415.4" y1="64.2" x2="419.2" y2="64.2" stroke="#000" stroke-width="1.1"/>
<line x1="415.4" y1="74.2" x2="419.2" y2="74.2" stroke="#000" stroke-width="1.1"/>
<polyline points="264.7,84 276.2,83 287.7,82.5 299.4,83.8 312.2,101 323.7,99.5 335.4,99 346.9,98 358.8,66.2 370.8,71.5 382.4,71.5 393.9,70.8 405.8,70 417.3,68.5" fill="none" stroke="#000" stroke-width="1.15" stroke-linejoin="round"/>
<line x1="358.8" y1="61.2" x2="358.8" y2="71.2" stroke="#000" stroke-width="1.1"/>
<line x1="356.9" y1="61.2" x2="360.7" y2="61.2" stroke="#000" stroke-width="1.1"/>
<line x1="356.9" y1="71.2" x2="360.7" y2="71.2" stroke="#000" stroke-width="1.1"/>
<line x1="370.8" y1="66.5" x2="370.8" y2="76.5" stroke="#000" stroke-width="1.1"/>
<line x1="368.9" y1="66.5" x2="372.7" y2="66.5" stroke="#000" stroke-width="1.1"/>
<line x1="368.9" y1="76.5" x2="372.7" y2="76.5" stroke="#000" stroke-width="1.1"/>
<line x1="382.4" y1="66.5" x2="382.4" y2="76.5" stroke="#000" stroke-width="1.1"/>
<line x1="380.5" y1="66.5" x2="384.3" y2="66.5" stroke="#000" stroke-width="1.1"/>
<line x1="380.5" y1="76.5" x2="384.3" y2="76.5" stroke="#000" stroke-width="1.1"/>
<line x1="393.9" y1="65.8" x2="393.9" y2="75.8" stroke="#000" stroke-width="1.1"/>
<line x1="392" y1="65.8" x2="395.8" y2="65.8" stroke="#000" stroke-width="1.1"/>
<line x1="392" y1="75.8" x2="395.8" y2="75.8" stroke="#000" stroke-width="1.1"/>
<line x1="405.8" y1="65" x2="405.8" y2="75" stroke="#000" stroke-width="1.1"/>
<line x1="403.9" y1="65" x2="407.7" y2="65" stroke="#000" stroke-width="1.1"/>
<line x1="403.9" y1="75" x2="407.7" y2="75" stroke="#000" stroke-width="1.1"/>
<line x1="417.3" y1="63.5" x2="417.3" y2="73.5" stroke="#000" stroke-width="1.1"/>
<line x1="415.4" y1="63.5" x2="419.2" y2="63.5" stroke="#000" stroke-width="1.1"/>
<line x1="415.4" y1="73.5" x2="419.2" y2="73.5" stroke="#000" stroke-width="1.1"/>
<polyline points="264.7,83.5 276.2,85 287.7,84.5 299.4,83.8 312.2,102.5 323.7,101 335.4,100.5 346.9,99.5 358.8,71.5 370.8,73.8 382.4,77.7 393.9,80 405.8,82.3 417.3,83.8" fill="none" stroke="#000" stroke-width="1.15" stroke-linejoin="round"/>
<line x1="358.8" y1="66.5" x2="358.8" y2="76.5" stroke="#000" stroke-width="1.1"/>
<line x1="356.9" y1="66.5" x2="360.7" y2="66.5" stroke="#000" stroke-width="1.1"/>
<line x1="356.9" y1="76.5" x2="360.7" y2="76.5" stroke="#000" stroke-width="1.1"/>
<line x1="370.8" y1="68.8" x2="370.8" y2="78.8" stroke="#000" stroke-width="1.1"/>
<line x1="368.9" y1="68.8" x2="372.7" y2="68.8" stroke="#000" stroke-width="1.1"/>
<line x1="368.9" y1="78.8" x2="372.7" y2="78.8" stroke="#000" stroke-width="1.1"/>
<line x1="382.4" y1="72.7" x2="382.4" y2="82.7" stroke="#000" stroke-width="1.1"/>
<line x1="380.5" y1="72.7" x2="384.3" y2="72.7" stroke="#000" stroke-width="1.1"/>
<line x1="380.5" y1="82.7" x2="384.3" y2="82.7" stroke="#000" stroke-width="1.1"/>
<line x1="393.9" y1="75" x2="393.9" y2="85" stroke="#000" stroke-width="1.1"/>
<line x1="392" y1="75" x2="395.8" y2="75" stroke="#000" stroke-width="1.1"/>
<line x1="392" y1="85" x2="395.8" y2="85" stroke="#000" stroke-width="1.1"/>
<line x1="405.8" y1="77.3" x2="405.8" y2="87.3" stroke="#000" stroke-width="1.1"/>
<line x1="403.9" y1="77.3" x2="407.7" y2="77.3" stroke="#000" stroke-width="1.1"/>
<line x1="403.9" y1="87.3" x2="407.7" y2="87.3" stroke="#000" stroke-width="1.1"/>
<line x1="417.3" y1="78.8" x2="417.3" y2="88.8" stroke="#000" stroke-width="1.1"/>
<line x1="415.4" y1="78.8" x2="419.2" y2="78.8" stroke="#000" stroke-width="1.1"/>
<line x1="415.4" y1="88.8" x2="419.2" y2="88.8" stroke="#000" stroke-width="1.1"/>
<polyline points="264.7,84.5 276.2,82 287.7,83.5 299.4,83.8 312.2,103 323.7,102 335.4,101.5 346.9,100.5 358.8,77 370.8,71.5 382.4,73 393.9,75 405.8,76 417.3,77" fill="none" stroke="#000" stroke-width="1.15" stroke-linejoin="round"/>
<line x1="358.8" y1="72" x2="358.8" y2="82" stroke="#000" stroke-width="1.1"/>
<line x1="356.9" y1="72" x2="360.7" y2="72" stroke="#000" stroke-width="1.1"/>
<line x1="356.9" y1="82" x2="360.7" y2="82" stroke="#000" stroke-width="1.1"/>
<line x1="370.8" y1="66.5" x2="370.8" y2="76.5" stroke="#000" stroke-width="1.1"/>
<line x1="368.9" y1="66.5" x2="372.7" y2="66.5" stroke="#000" stroke-width="1.1"/>
<line x1="368.9" y1="76.5" x2="372.7" y2="76.5" stroke="#000" stroke-width="1.1"/>
<line x1="382.4" y1="68" x2="382.4" y2="78" stroke="#000" stroke-width="1.1"/>
<line x1="380.5" y1="68" x2="384.3" y2="68" stroke="#000" stroke-width="1.1"/>
<line x1="380.5" y1="78" x2="384.3" y2="78" stroke="#000" stroke-width="1.1"/>
<line x1="393.9" y1="70" x2="393.9" y2="80" stroke="#000" stroke-width="1.1"/>
<line x1="392" y1="70" x2="395.8" y2="70" stroke="#000" stroke-width="1.1"/>
<line x1="392" y1="80" x2="395.8" y2="80" stroke="#000" stroke-width="1.1"/>
<line x1="405.8" y1="71" x2="405.8" y2="81" stroke="#000" stroke-width="1.1"/>
<line x1="403.9" y1="71" x2="407.7" y2="71" stroke="#000" stroke-width="1.1"/>
<line x1="403.9" y1="81" x2="407.7" y2="81" stroke="#000" stroke-width="1.1"/>
<line x1="417.3" y1="72" x2="417.3" y2="82" stroke="#000" stroke-width="1.1"/>
<line x1="415.4" y1="72" x2="419.2" y2="72" stroke="#000" stroke-width="1.1"/>
<line x1="415.4" y1="82" x2="419.2" y2="82" stroke="#000" stroke-width="1.1"/>
<polyline points="264.7,83.5 276.2,84 287.7,85.5 299.4,83.8 312.2,100 323.7,100 335.4,99.5 346.9,99 358.8,77.7 370.8,80 382.4,81.5 393.9,82.3 405.8,85.4 417.3,90" fill="none" stroke="#000" stroke-width="1.15" stroke-linejoin="round"/>
<line x1="358.8" y1="72.7" x2="358.8" y2="82.7" stroke="#000" stroke-width="1.1"/>
<line x1="356.9" y1="72.7" x2="360.7" y2="72.7" stroke="#000" stroke-width="1.1"/>
<line x1="356.9" y1="82.7" x2="360.7" y2="82.7" stroke="#000" stroke-width="1.1"/>
<line x1="370.8" y1="75" x2="370.8" y2="85" stroke="#000" stroke-width="1.1"/>
<line x1="368.9" y1="75" x2="372.7" y2="75" stroke="#000" stroke-width="1.1"/>
<line x1="368.9" y1="85" x2="372.7" y2="85" stroke="#000" stroke-width="1.1"/>
<line x1="382.4" y1="76.5" x2="382.4" y2="86.5" stroke="#000" stroke-width="1.1"/>
<line x1="380.5" y1="76.5" x2="384.3" y2="76.5" stroke="#000" stroke-width="1.1"/>
<line x1="380.5" y1="86.5" x2="384.3" y2="86.5" stroke="#000" stroke-width="1.1"/>
<line x1="393.9" y1="77.3" x2="393.9" y2="87.3" stroke="#000" stroke-width="1.1"/>
<line x1="392" y1="77.3" x2="395.8" y2="77.3" stroke="#000" stroke-width="1.1"/>
<line x1="392" y1="87.3" x2="395.8" y2="87.3" stroke="#000" stroke-width="1.1"/>
<line x1="405.8" y1="80.4" x2="405.8" y2="90.4" stroke="#000" stroke-width="1.1"/>
<line x1="403.9" y1="80.4" x2="407.7" y2="80.4" stroke="#000" stroke-width="1.1"/>
<line x1="403.9" y1="90.4" x2="407.7" y2="90.4" stroke="#000" stroke-width="1.1"/>
<line x1="417.3" y1="85" x2="417.3" y2="95" stroke="#000" stroke-width="1.1"/>
<line x1="415.4" y1="85" x2="419.2" y2="85" stroke="#000" stroke-width="1.1"/>
<line x1="415.4" y1="95" x2="419.2" y2="95" stroke="#000" stroke-width="1.1"/>
<polyline points="264.7,84 276.2,83.8 287.7,83 299.4,83.8 312.2,97 323.7,97.5 335.4,97 346.9,96 358.8,65 370.8,75 382.4,78 393.9,80 405.8,80 417.3,78" fill="none" stroke="#000" stroke-width="1.15" stroke-linejoin="round"/>
<line x1="358.8" y1="60" x2="358.8" y2="70" stroke="#000" stroke-width="1.1"/>
<line x1="356.9" y1="60" x2="360.7" y2="60" stroke="#000" stroke-width="1.1"/>
<line x1="356.9" y1="70" x2="360.7" y2="70" stroke="#000" stroke-width="1.1"/>
<line x1="370.8" y1="70" x2="370.8" y2="80" stroke="#000" stroke-width="1.1"/>
<line x1="368.9" y1="70" x2="372.7" y2="70" stroke="#000" stroke-width="1.1"/>
<line x1="368.9" y1="80" x2="372.7" y2="80" stroke="#000" stroke-width="1.1"/>
<line x1="382.4" y1="73" x2="382.4" y2="83" stroke="#000" stroke-width="1.1"/>
<line x1="380.5" y1="73" x2="384.3" y2="73" stroke="#000" stroke-width="1.1"/>
<line x1="380.5" y1="83" x2="384.3" y2="83" stroke="#000" stroke-width="1.1"/>
<line x1="393.9" y1="75" x2="393.9" y2="85" stroke="#000" stroke-width="1.1"/>
<line x1="392" y1="75" x2="395.8" y2="75" stroke="#000" stroke-width="1.1"/>
<line x1="392" y1="85" x2="395.8" y2="85" stroke="#000" stroke-width="1.1"/>
<line x1="405.8" y1="75" x2="405.8" y2="85" stroke="#000" stroke-width="1.1"/>
<line x1="403.9" y1="75" x2="407.7" y2="75" stroke="#000" stroke-width="1.1"/>
<line x1="403.9" y1="85" x2="407.7" y2="85" stroke="#000" stroke-width="1.1"/>
<line x1="417.3" y1="73" x2="417.3" y2="83" stroke="#000" stroke-width="1.1"/>
<line x1="415.4" y1="73" x2="419.2" y2="73" stroke="#000" stroke-width="1.1"/>
<line x1="415.4" y1="83" x2="419.2" y2="83" stroke="#000" stroke-width="1.1"/>
<line x1="276.2" y1="79" x2="276.2" y2="89.8" stroke="#000" stroke-width="0.9"/>
<line x1="274.3" y1="79" x2="278.1" y2="79" stroke="#000" stroke-width="0.9"/>
<line x1="274.3" y1="89.8" x2="278.1" y2="89.8" stroke="#000" stroke-width="0.9"/>
<line x1="287.7" y1="80" x2="287.7" y2="88" stroke="#000" stroke-width="0.9"/>
<line x1="285.8" y1="80" x2="289.6" y2="80" stroke="#000" stroke-width="0.9"/>
<line x1="285.8" y1="88" x2="289.6" y2="88" stroke="#000" stroke-width="0.9"/>
<line x1="312.2" y1="89.5" x2="312.2" y2="104" stroke="#000" stroke-width="0.9"/>
<line x1="310.3" y1="89.5" x2="314.1" y2="89.5" stroke="#000" stroke-width="0.9"/>
<line x1="310.3" y1="104" x2="314.1" y2="104" stroke="#000" stroke-width="0.9"/>
<line x1="323.7" y1="89.5" x2="323.7" y2="104" stroke="#000" stroke-width="0.9"/>
<line x1="321.8" y1="89.5" x2="325.6" y2="89.5" stroke="#000" stroke-width="0.9"/>
<line x1="321.8" y1="104" x2="325.6" y2="104" stroke="#000" stroke-width="0.9"/>
<line x1="335.4" y1="89.5" x2="335.4" y2="104" stroke="#000" stroke-width="0.9"/>
<line x1="333.5" y1="89.5" x2="337.3" y2="89.5" stroke="#000" stroke-width="0.9"/>
<line x1="333.5" y1="104" x2="337.3" y2="104" stroke="#000" stroke-width="0.9"/>
<line x1="346.9" y1="89.5" x2="346.9" y2="104" stroke="#000" stroke-width="0.9"/>
<line x1="345" y1="89.5" x2="348.8" y2="89.5" stroke="#000" stroke-width="0.9"/>
<line x1="345" y1="104" x2="348.8" y2="104" stroke="#000" stroke-width="0.9"/>
<rect x="263.1" y="72.1" width="3.2" height="3.2" fill="#000" stroke="#000" stroke-width="0.8"/>
<rect x="274.6" y="80.9" width="3.2" height="3.2" fill="#000" stroke="#000" stroke-width="0.8"/>
<rect x="286.1" y="82.9" width="3.2" height="3.2" fill="#000" stroke="#000" stroke-width="0.8"/>
<rect x="297.8" y="82.2" width="3.2" height="3.2" fill="#000" stroke="#000" stroke-width="0.8"/>
<rect x="310.6" y="93.4" width="3.2" height="3.2" fill="#000" stroke="#000" stroke-width="0.8"/>
<rect x="322.1" y="91.9" width="3.2" height="3.2" fill="#000" stroke="#000" stroke-width="0.8"/>
<rect x="333.8" y="91.9" width="3.2" height="3.2" fill="#000" stroke="#000" stroke-width="0.8"/>
<rect x="345.3" y="90.9" width="3.2" height="3.2" fill="#000" stroke="#000" stroke-width="0.8"/>
<rect x="357.2" y="38.4" width="3.2" height="3.2" fill="#000" stroke="#000" stroke-width="0.8"/>
<rect x="369.2" y="36.1" width="3.2" height="3.2" fill="#000" stroke="#000" stroke-width="0.8"/>
<rect x="380.8" y="35.8" width="3.2" height="3.2" fill="#000" stroke="#000" stroke-width="0.8"/>
<rect x="392.3" y="36.6" width="3.2" height="3.2" fill="#000" stroke="#000" stroke-width="0.8"/>
<rect x="404.2" y="37.2" width="3.2" height="3.2" fill="#000" stroke="#000" stroke-width="0.8"/>
<rect x="415.7" y="38.4" width="3.2" height="3.2" fill="#000" stroke="#000" stroke-width="0.8"/>
<circle cx="264.7" cy="80.5" r="1.35" fill="#fff" stroke="#000" stroke-width="1.1"/>
<circle cx="276.2" cy="81.5" r="1.35" fill="#fff" stroke="#000" stroke-width="1.1"/>
<circle cx="287.7" cy="83" r="1.35" fill="#fff" stroke="#000" stroke-width="1.1"/>
<circle cx="299.4" cy="83.8" r="1.35" fill="#fff" stroke="#000" stroke-width="1.1"/>
<circle cx="312.2" cy="96" r="1.35" fill="#fff" stroke="#000" stroke-width="1.1"/>
<circle cx="323.7" cy="94.5" r="1.35" fill="#fff" stroke="#000" stroke-width="1.1"/>
<circle cx="335.4" cy="94" r="1.35" fill="#fff" stroke="#000" stroke-width="1.1"/>
<circle cx="346.9" cy="93" r="1.35" fill="#fff" stroke="#000" stroke-width="1.1"/>
<circle cx="358.8" cy="43" r="1.35" fill="#fff" stroke="#000" stroke-width="1.1"/>
<circle cx="370.8" cy="42.3" r="1.35" fill="#fff" stroke="#000" stroke-width="1.1"/>
<circle cx="382.4" cy="42.6" r="1.35" fill="#fff" stroke="#000" stroke-width="1.1"/>
<circle cx="393.9" cy="45.4" r="1.35" fill="#fff" stroke="#000" stroke-width="1.1"/>
<circle cx="405.8" cy="45.7" r="1.35" fill="#fff" stroke="#000" stroke-width="1.1"/>
<circle cx="417.3" cy="44.6" r="1.35" fill="#fff" stroke="#000" stroke-width="1.1"/>
<rect x="263.1" y="81.4" width="3.2" height="3.2" fill="#000" stroke="#000" stroke-width="0.8"/>
<rect x="274.6" y="81.9" width="3.2" height="3.2" fill="#000" stroke="#000" stroke-width="0.8"/>
<rect x="286.1" y="82.4" width="3.2" height="3.2" fill="#000" stroke="#000" stroke-width="0.8"/>
<rect x="297.8" y="82.2" width="3.2" height="3.2" fill="#000" stroke="#000" stroke-width="0.8"/>
<rect x="310.6" y="96.4" width="3.2" height="3.2" fill="#000" stroke="#000" stroke-width="0.8"/>
<rect x="322.1" y="94.9" width="3.2" height="3.2" fill="#000" stroke="#000" stroke-width="0.8"/>
<rect x="333.8" y="94.4" width="3.2" height="3.2" fill="#000" stroke="#000" stroke-width="0.8"/>
<rect x="345.3" y="93.4" width="3.2" height="3.2" fill="#000" stroke="#000" stroke-width="0.8"/>
<rect x="357.2" y="46.9" width="3.2" height="3.2" fill="#000" stroke="#000" stroke-width="0.8"/>
<rect x="369.2" y="53" width="3.2" height="3.2" fill="#000" stroke="#000" stroke-width="0.8"/>
<rect x="380.8" y="54.2" width="3.2" height="3.2" fill="#000" stroke="#000" stroke-width="0.8"/>
<rect x="392.3" y="57.6" width="3.2" height="3.2" fill="#000" stroke="#000" stroke-width="0.8"/>
<rect x="404.2" y="61.4" width="3.2" height="3.2" fill="#000" stroke="#000" stroke-width="0.8"/>
<rect x="415.7" y="61.4" width="3.2" height="3.2" fill="#000" stroke="#000" stroke-width="0.8"/>
<path d="M262.9 83.62L266.5 83.62L264.7 80.38Z" fill="#000" stroke="#000" stroke-width="0.6"/>
<path d="M274.4 86.12L278 86.12L276.2 82.88Z" fill="#000" stroke="#000" stroke-width="0.6"/>
<path d="M285.9 86.62L289.5 86.62L287.7 83.38Z" fill="#000" stroke="#000" stroke-width="0.6"/>
<path d="M297.6 85.42L301.2 85.42L299.4 82.18Z" fill="#000" stroke="#000" stroke-width="0.6"/>
<path d="M310.4 101.12L314 101.12L312.2 97.88Z" fill="#000" stroke="#000" stroke-width="0.6"/>
<path d="M321.9 99.62L325.5 99.62L323.7 96.38Z" fill="#000" stroke="#000" stroke-width="0.6"/>
<path d="M333.6 99.12L337.2 99.12L335.4 95.88Z" fill="#000" stroke="#000" stroke-width="0.6"/>
<path d="M345.1 98.12L348.7 98.12L346.9 94.88Z" fill="#000" stroke="#000" stroke-width="0.6"/>
<path d="M357 59.32L360.6 59.32L358.8 56.08Z" fill="#000" stroke="#000" stroke-width="0.6"/>
<path d="M369 67.02L372.6 67.02L370.8 63.78Z" fill="#000" stroke="#000" stroke-width="0.6"/>
<path d="M380.6 70.82L384.2 70.82L382.4 67.58Z" fill="#000" stroke="#000" stroke-width="0.6"/>
<path d="M392.1 70.82L395.7 70.82L393.9 67.58Z" fill="#000" stroke="#000" stroke-width="0.6"/>
<path d="M404 70.82L407.6 70.82L405.8 67.58Z" fill="#000" stroke="#000" stroke-width="0.6"/>
<path d="M415.5 70.82L419.1 70.82L417.3 67.58Z" fill="#000" stroke="#000" stroke-width="0.6"/>
<path d="M262.9 82.38L266.5 82.38L264.7 85.62Z" fill="#000" stroke="#000" stroke-width="0.6"/>
<path d="M274.4 81.38L278 81.38L276.2 84.62Z" fill="#000" stroke="#000" stroke-width="0.6"/>
<path d="M285.9 80.88L289.5 80.88L287.7 84.12Z" fill="#000" stroke="#000" stroke-width="0.6"/>
<path d="M297.6 82.18L301.2 82.18L299.4 85.42Z" fill="#000" stroke="#000" stroke-width="0.6"/>
<path d="M310.4 99.38L314 99.38L312.2 102.62Z" fill="#000" stroke="#000" stroke-width="0.6"/>
<path d="M321.9 97.88L325.5 97.88L323.7 101.12Z" fill="#000" stroke="#000" stroke-width="0.6"/>
<path d="M333.6 97.38L337.2 97.38L335.4 100.62Z" fill="#000" stroke="#000" stroke-width="0.6"/>
<path d="M345.1 96.38L348.7 96.38L346.9 99.62Z" fill="#000" stroke="#000" stroke-width="0.6"/>
<path d="M357 64.58L360.6 64.58L358.8 67.82Z" fill="#000" stroke="#000" stroke-width="0.6"/>
<path d="M369 69.88L372.6 69.88L370.8 73.12Z" fill="#000" stroke="#000" stroke-width="0.6"/>
<path d="M380.6 69.88L384.2 69.88L382.4 73.12Z" fill="#000" stroke="#000" stroke-width="0.6"/>
<path d="M392.1 69.18L395.7 69.18L393.9 72.42Z" fill="#000" stroke="#000" stroke-width="0.6"/>
<path d="M404 68.38L407.6 68.38L405.8 71.62Z" fill="#000" stroke="#000" stroke-width="0.6"/>
<path d="M415.5 66.88L419.1 66.88L417.3 70.12Z" fill="#000" stroke="#000" stroke-width="0.6"/>
<path d="M264.7 81.7L266.5 83.5L264.7 85.3L262.9 83.5Z" fill="#000" stroke="#000" stroke-width="0.6"/>
<path d="M276.2 83.2L278 85L276.2 86.8L274.4 85Z" fill="#000" stroke="#000" stroke-width="0.6"/>
<path d="M287.7 82.7L289.5 84.5L287.7 86.3L285.9 84.5Z" fill="#000" stroke="#000" stroke-width="0.6"/>
<path d="M299.4 82L301.2 83.8L299.4 85.6L297.6 83.8Z" fill="#000" stroke="#000" stroke-width="0.6"/>
<path d="M312.2 100.7L314 102.5L312.2 104.3L310.4 102.5Z" fill="#000" stroke="#000" stroke-width="0.6"/>
<path d="M323.7 99.2L325.5 101L323.7 102.8L321.9 101Z" fill="#000" stroke="#000" stroke-width="0.6"/>
<path d="M335.4 98.7L337.2 100.5L335.4 102.3L333.6 100.5Z" fill="#000" stroke="#000" stroke-width="0.6"/>
<path d="M346.9 97.7L348.7 99.5L346.9 101.3L345.1 99.5Z" fill="#000" stroke="#000" stroke-width="0.6"/>
<path d="M358.8 69.7L360.6 71.5L358.8 73.3L357 71.5Z" fill="#000" stroke="#000" stroke-width="0.6"/>
<path d="M370.8 72L372.6 73.8L370.8 75.6L369 73.8Z" fill="#000" stroke="#000" stroke-width="0.6"/>
<path d="M382.4 75.9L384.2 77.7L382.4 79.5L380.6 77.7Z" fill="#000" stroke="#000" stroke-width="0.6"/>
<path d="M393.9 78.2L395.7 80L393.9 81.8L392.1 80Z" fill="#000" stroke="#000" stroke-width="0.6"/>
<path d="M405.8 80.5L407.6 82.3L405.8 84.1L404 82.3Z" fill="#000" stroke="#000" stroke-width="0.6"/>
<path d="M417.3 82L419.1 83.8L417.3 85.6L415.5 83.8Z" fill="#000" stroke="#000" stroke-width="0.6"/>
<circle cx="264.7" cy="84.5" r="1.3" fill="#000" stroke="#000" stroke-width="0.9"/>
<circle cx="276.2" cy="82" r="1.3" fill="#000" stroke="#000" stroke-width="0.9"/>
<circle cx="287.7" cy="83.5" r="1.3" fill="#000" stroke="#000" stroke-width="0.9"/>
<circle cx="299.4" cy="83.8" r="1.3" fill="#000" stroke="#000" stroke-width="0.9"/>
<circle cx="312.2" cy="103" r="1.3" fill="#000" stroke="#000" stroke-width="0.9"/>
<circle cx="323.7" cy="102" r="1.3" fill="#000" stroke="#000" stroke-width="0.9"/>
<circle cx="335.4" cy="101.5" r="1.3" fill="#000" stroke="#000" stroke-width="0.9"/>
<circle cx="346.9" cy="100.5" r="1.3" fill="#000" stroke="#000" stroke-width="0.9"/>
<circle cx="358.8" cy="77" r="1.3" fill="#000" stroke="#000" stroke-width="0.9"/>
<circle cx="370.8" cy="71.5" r="1.3" fill="#000" stroke="#000" stroke-width="0.9"/>
<circle cx="382.4" cy="73" r="1.3" fill="#000" stroke="#000" stroke-width="0.9"/>
<circle cx="393.9" cy="75" r="1.3" fill="#000" stroke="#000" stroke-width="0.9"/>
<circle cx="405.8" cy="76" r="1.3" fill="#000" stroke="#000" stroke-width="0.9"/>
<circle cx="417.3" cy="77" r="1.3" fill="#000" stroke="#000" stroke-width="0.9"/>
<line x1="262.9" y1="81.7" x2="266.5" y2="85.3" stroke="#000" stroke-width="0.9"/>
<line x1="262.9" y1="85.3" x2="266.5" y2="81.7" stroke="#000" stroke-width="0.9"/>
<line x1="274.4" y1="82.2" x2="278" y2="85.8" stroke="#000" stroke-width="0.9"/>
<line x1="274.4" y1="85.8" x2="278" y2="82.2" stroke="#000" stroke-width="0.9"/>
<line x1="285.9" y1="83.7" x2="289.5" y2="87.3" stroke="#000" stroke-width="0.9"/>
<line x1="285.9" y1="87.3" x2="289.5" y2="83.7" stroke="#000" stroke-width="0.9"/>
<line x1="297.6" y1="82" x2="301.2" y2="85.6" stroke="#000" stroke-width="0.9"/>
<line x1="297.6" y1="85.6" x2="301.2" y2="82" stroke="#000" stroke-width="0.9"/>
<line x1="310.4" y1="98.2" x2="314" y2="101.8" stroke="#000" stroke-width="0.9"/>
<line x1="310.4" y1="101.8" x2="314" y2="98.2" stroke="#000" stroke-width="0.9"/>
<line x1="321.9" y1="98.2" x2="325.5" y2="101.8" stroke="#000" stroke-width="0.9"/>
<line x1="321.9" y1="101.8" x2="325.5" y2="98.2" stroke="#000" stroke-width="0.9"/>
<line x1="333.6" y1="97.7" x2="337.2" y2="101.3" stroke="#000" stroke-width="0.9"/>
<line x1="333.6" y1="101.3" x2="337.2" y2="97.7" stroke="#000" stroke-width="0.9"/>
<line x1="345.1" y1="97.2" x2="348.7" y2="100.8" stroke="#000" stroke-width="0.9"/>
<line x1="345.1" y1="100.8" x2="348.7" y2="97.2" stroke="#000" stroke-width="0.9"/>
<line x1="357" y1="75.9" x2="360.6" y2="79.5" stroke="#000" stroke-width="0.9"/>
<line x1="357" y1="79.5" x2="360.6" y2="75.9" stroke="#000" stroke-width="0.9"/>
<line x1="369" y1="78.2" x2="372.6" y2="81.8" stroke="#000" stroke-width="0.9"/>
<line x1="369" y1="81.8" x2="372.6" y2="78.2" stroke="#000" stroke-width="0.9"/>
<line x1="380.6" y1="79.7" x2="384.2" y2="83.3" stroke="#000" stroke-width="0.9"/>
<line x1="380.6" y1="83.3" x2="384.2" y2="79.7" stroke="#000" stroke-width="0.9"/>
<line x1="392.1" y1="80.5" x2="395.7" y2="84.1" stroke="#000" stroke-width="0.9"/>
<line x1="392.1" y1="84.1" x2="395.7" y2="80.5" stroke="#000" stroke-width="0.9"/>
<line x1="404" y1="83.6" x2="407.6" y2="87.2" stroke="#000" stroke-width="0.9"/>
<line x1="404" y1="87.2" x2="407.6" y2="83.6" stroke="#000" stroke-width="0.9"/>
<line x1="415.5" y1="88.2" x2="419.1" y2="91.8" stroke="#000" stroke-width="0.9"/>
<line x1="415.5" y1="91.8" x2="419.1" y2="88.2" stroke="#000" stroke-width="0.9"/>
<circle cx="264.7" cy="84" r="2" fill="#000" stroke="#000" stroke-width="0.9"/>
<circle cx="276.2" cy="83.8" r="2" fill="#000" stroke="#000" stroke-width="0.9"/>
<circle cx="287.7" cy="83" r="2" fill="#000" stroke="#000" stroke-width="0.9"/>
<circle cx="299.4" cy="83.8" r="2" fill="#000" stroke="#000" stroke-width="0.9"/>
<circle cx="312.2" cy="97" r="2" fill="#000" stroke="#000" stroke-width="0.9"/>
<circle cx="323.7" cy="97.5" r="2" fill="#000" stroke="#000" stroke-width="0.9"/>
<circle cx="335.4" cy="97" r="2" fill="#000" stroke="#000" stroke-width="0.9"/>
<circle cx="346.9" cy="96" r="2" fill="#000" stroke="#000" stroke-width="0.9"/>
<circle cx="358.8" cy="65" r="2" fill="#000" stroke="#000" stroke-width="0.9"/>
<circle cx="370.8" cy="75" r="2" fill="#000" stroke="#000" stroke-width="0.9"/>
<circle cx="382.4" cy="78" r="2" fill="#000" stroke="#000" stroke-width="0.9"/>
<circle cx="393.9" cy="80" r="2" fill="#000" stroke="#000" stroke-width="0.9"/>
<circle cx="405.8" cy="80" r="2" fill="#000" stroke="#000" stroke-width="0.9"/>
<circle cx="417.3" cy="78" r="2" fill="#000" stroke="#000" stroke-width="0.9"/>
<line x1="428.5" y1="15.8" x2="440" y2="15.8" stroke="#000" stroke-width="1.2"/>
<rect x="432.36" y="14.36" width="2.88" height="2.88" fill="#000" stroke="#000" stroke-width="0.8"/>
<text x="441.2" y="15.8" font-size="6.6" text-anchor="start" dy="0.36em">MCF-7</text>
<line x1="428.5" y1="22.7" x2="440" y2="22.7" stroke="#000" stroke-width="1.2"/>
<circle cx="433.8" cy="22.7" r="1.22" fill="#fff" stroke="#000" stroke-width="1.1"/>
<text x="441.2" y="22.7" font-size="6.6" text-anchor="start" dy="0.36em">OVCAR3</text>
<line x1="428.5" y1="29.6" x2="440" y2="29.6" stroke="#000" stroke-width="1.2"/>
<rect x="432.36" y="28.16" width="2.88" height="2.88" fill="#000" stroke="#000" stroke-width="0.8"/>
<text x="441.2" y="29.6" font-size="6.6" text-anchor="start" dy="0.36em">AML-2</text>
<line x1="428.5" y1="38.1" x2="440" y2="38.1" stroke="#000" stroke-width="1.2"/>
<path d="M432.18 39.56L435.42 39.56L433.8 36.64Z" fill="#000" stroke="#000" stroke-width="0.6"/>
<text x="441.2" y="38.1" font-size="6.6" text-anchor="start" dy="0.36em">HL-60</text>
<line x1="428.5" y1="46.5" x2="440" y2="46.5" stroke="#000" stroke-width="1.2"/>
<path d="M432.18 45.04L435.42 45.04L433.8 47.96Z" fill="#000" stroke="#000" stroke-width="0.6"/>
<text x="441.2" y="46.5" font-size="6.6" text-anchor="start" dy="0.36em">NB4</text>
<line x1="428.5" y1="54.7" x2="440" y2="54.7" stroke="#000" stroke-width="1.2"/>
<path d="M433.8 53.08L435.42 54.7L433.8 56.32L432.18 54.7Z" fill="#000" stroke="#000" stroke-width="0.6"/>
<text x="441.2" y="54.7" font-size="6.6" text-anchor="start" dy="0.36em">THP1</text>
<line x1="428.5" y1="62.7" x2="440" y2="62.7" stroke="#000" stroke-width="1.2"/>
<circle cx="433.8" cy="62.7" r="1.17" fill="#000" stroke="#000" stroke-width="0.9"/>
<text x="441.2" y="62.7" font-size="6.6" text-anchor="start" dy="0.36em">OCI-M2</text>
<line x1="428.5" y1="71.9" x2="440" y2="71.9" stroke="#000" stroke-width="1.2"/>
<line x1="432.18" y1="70.28" x2="435.42" y2="73.52" stroke="#000" stroke-width="0.9"/>
<line x1="432.18" y1="73.52" x2="435.42" y2="70.28" stroke="#000" stroke-width="0.9"/>
<text x="441.2" y="71.9" font-size="6.6" text-anchor="start" dy="0.36em">K562</text>
<line x1="428.5" y1="81.2" x2="440" y2="81.2" stroke="#000" stroke-width="1.2"/>
<circle cx="433.8" cy="81.2" r="1.8" fill="#000" stroke="#000" stroke-width="0.9"/>
<text x="441.2" y="81.2" font-size="6.6" text-anchor="start" dy="0.36em">U937</text>
<line x1="269.3" y1="142" x2="269.3" y2="255" stroke="#000" stroke-width="1.3"/>
<line x1="266.7" y1="255" x2="269.3" y2="255" stroke="#000" stroke-width="1.3"/>
<text x="266.3" y="255" font-size="6.4" text-anchor="end" dy="0.36em">0</text>
<line x1="266.7" y1="240.88" x2="269.3" y2="240.88" stroke="#000" stroke-width="1.3"/>
<text x="266.3" y="240.88" font-size="6.4" text-anchor="end" dy="0.36em">50</text>
<line x1="266.7" y1="226.75" x2="269.3" y2="226.75" stroke="#000" stroke-width="1.3"/>
<text x="266.3" y="226.75" font-size="6.4" text-anchor="end" dy="0.36em">100</text>
<line x1="266.7" y1="212.62" x2="269.3" y2="212.62" stroke="#000" stroke-width="1.3"/>
<text x="266.3" y="212.62" font-size="6.4" text-anchor="end" dy="0.36em">150</text>
<line x1="266.7" y1="198.5" x2="269.3" y2="198.5" stroke="#000" stroke-width="1.3"/>
<text x="266.3" y="198.5" font-size="6.4" text-anchor="end" dy="0.36em">200</text>
<line x1="266.7" y1="184.38" x2="269.3" y2="184.38" stroke="#000" stroke-width="1.3"/>
<text x="266.3" y="184.38" font-size="6.4" text-anchor="end" dy="0.36em">250</text>
<line x1="266.7" y1="170.25" x2="269.3" y2="170.25" stroke="#000" stroke-width="1.3"/>
<text x="266.3" y="170.25" font-size="6.4" text-anchor="end" dy="0.36em">300</text>
<line x1="266.7" y1="156.12" x2="269.3" y2="156.12" stroke="#000" stroke-width="1.3"/>
<text x="266.3" y="156.12" font-size="6.4" text-anchor="end" dy="0.36em">350</text>
<line x1="266.7" y1="142" x2="269.3" y2="142" stroke="#000" stroke-width="1.3"/>
<text x="266.3" y="142" font-size="6.4" text-anchor="end" dy="0.36em">400</text>
<line x1="269.3" y1="255" x2="430" y2="255" stroke="#000" stroke-width="1.3"/>
<line x1="277.9" y1="170.53" x2="277.9" y2="146.24" stroke="#000" stroke-width="1.3"/>
<line x1="274.6" y1="146.24" x2="281.2" y2="146.24" stroke="#000" stroke-width="1.3"/>
<rect x="271.4" y="170.53" width="13" height="84.47" fill="#d3d3d3" stroke="#000" stroke-width="1.2"/>
<line x1="277.9" y1="255" x2="277.9" y2="257.6" stroke="#000" stroke-width="1.3"/>
<text x="0" y="0" font-size="6.6" text-anchor="end" dy="0.3em" transform="translate(278.3,264.6) rotate(-45)">Normal</text>
<line x1="293.9" y1="163.75" x2="293.9" y2="144.54" stroke="#000" stroke-width="1.3"/>
<line x1="290.6" y1="144.54" x2="297.2" y2="144.54" stroke="#000" stroke-width="1.3"/>
<rect x="287.4" y="163.75" width="13" height="91.25" fill="#d3d3d3" stroke="#000" stroke-width="1.2"/>
<line x1="293.9" y1="255" x2="293.9" y2="257.6" stroke="#000" stroke-width="1.3"/>
<text x="0" y="0" font-size="6.6" text-anchor="end" dy="0.3em" transform="translate(294.3,264.6) rotate(-45)">MCF-7</text>
<line x1="309.9" y1="171.66" x2="309.9" y2="157.54" stroke="#000" stroke-width="1.3"/>
<line x1="306.6" y1="157.54" x2="313.2" y2="157.54" stroke="#000" stroke-width="1.3"/>
<rect x="303.4" y="171.66" width="13" height="83.34" fill="#d3d3d3" stroke="#000" stroke-width="1.2"/>
<line x1="309.9" y1="255" x2="309.9" y2="257.6" stroke="#000" stroke-width="1.3"/>
<text x="0" y="0" font-size="6.6" text-anchor="end" dy="0.3em" transform="translate(310.3,264.6) rotate(-45)">OVCAR-3</text>
<line x1="325.9" y1="213.19" x2="325.9" y2="207.54" stroke="#000" stroke-width="1.3"/>
<line x1="322.6" y1="207.54" x2="329.2" y2="207.54" stroke="#000" stroke-width="1.3"/>
<rect x="319.4" y="213.19" width="13" height="41.81" fill="#000" stroke="#000" stroke-width="1.2"/>
<line x1="325.9" y1="255" x2="325.9" y2="257.6" stroke="#000" stroke-width="1.3"/>
<text x="0" y="0" font-size="6.6" text-anchor="end" dy="0.3em" transform="translate(326.3,264.6) rotate(-45)">AML-2</text>
<line x1="323.8" y1="199.1" x2="323.8" y2="202.9" stroke="#000" stroke-width="1.25"/>
<line x1="322.15" y1="200.05" x2="325.45" y2="201.95" stroke="#000" stroke-width="1.25"/>
<line x1="322.15" y1="201.95" x2="325.45" y2="200.05" stroke="#000" stroke-width="1.25"/>
<line x1="328" y1="199.1" x2="328" y2="202.9" stroke="#000" stroke-width="1.25"/>
<line x1="326.35" y1="200.05" x2="329.65" y2="201.95" stroke="#000" stroke-width="1.25"/>
<line x1="326.35" y1="201.95" x2="329.65" y2="200.05" stroke="#000" stroke-width="1.25"/>
<line x1="341.9" y1="198.22" x2="341.9" y2="187.48" stroke="#000" stroke-width="1.3"/>
<line x1="338.6" y1="187.48" x2="345.2" y2="187.48" stroke="#000" stroke-width="1.3"/>
<rect x="335.4" y="198.22" width="13" height="56.78" fill="#000" stroke="#000" stroke-width="1.2"/>
<line x1="341.9" y1="255" x2="341.9" y2="257.6" stroke="#000" stroke-width="1.3"/>
<text x="0" y="0" font-size="6.6" text-anchor="end" dy="0.3em" transform="translate(342.3,264.6) rotate(-45)">HL-60</text>
<line x1="357.9" y1="223.08" x2="357.9" y2="219.12" stroke="#000" stroke-width="1.3"/>
<line x1="354.6" y1="219.12" x2="361.2" y2="219.12" stroke="#000" stroke-width="1.3"/>
<rect x="351.4" y="223.08" width="13" height="31.92" fill="#000" stroke="#000" stroke-width="1.2"/>
<line x1="357.9" y1="255" x2="357.9" y2="257.6" stroke="#000" stroke-width="1.3"/>
<text x="0" y="0" font-size="6.6" text-anchor="end" dy="0.3em" transform="translate(358.3,264.6) rotate(-45)">NB4</text>
<line x1="357.9" y1="210.1" x2="357.9" y2="213.9" stroke="#000" stroke-width="1.25"/>
<line x1="356.25" y1="211.05" x2="359.55" y2="212.95" stroke="#000" stroke-width="1.25"/>
<line x1="356.25" y1="212.95" x2="359.55" y2="211.05" stroke="#000" stroke-width="1.25"/>
<line x1="373.9" y1="219.97" x2="373.9" y2="215.45" stroke="#000" stroke-width="1.3"/>
<line x1="370.6" y1="215.45" x2="377.2" y2="215.45" stroke="#000" stroke-width="1.3"/>
<rect x="367.4" y="219.97" width="13" height="35.03" fill="#000" stroke="#000" stroke-width="1.2"/>
<line x1="373.9" y1="255" x2="373.9" y2="257.6" stroke="#000" stroke-width="1.3"/>
<text x="0" y="0" font-size="6.6" text-anchor="end" dy="0.3em" transform="translate(374.3,264.6) rotate(-45)">THP1</text>
<line x1="373.9" y1="206.4" x2="373.9" y2="210.2" stroke="#000" stroke-width="1.25"/>
<line x1="372.25" y1="207.35" x2="375.55" y2="209.25" stroke="#000" stroke-width="1.25"/>
<line x1="372.25" y1="209.25" x2="375.55" y2="207.35" stroke="#000" stroke-width="1.25"/>
<line x1="389.9" y1="214.32" x2="389.9" y2="209.52" stroke="#000" stroke-width="1.3"/>
<line x1="386.6" y1="209.52" x2="393.2" y2="209.52" stroke="#000" stroke-width="1.3"/>
<rect x="383.4" y="214.32" width="13" height="40.68" fill="#000" stroke="#000" stroke-width="1.2"/>
<line x1="389.9" y1="255" x2="389.9" y2="257.6" stroke="#000" stroke-width="1.3"/>
<text x="0" y="0" font-size="6.6" text-anchor="end" dy="0.3em" transform="translate(390.3,264.6) rotate(-45)">OCI-M2</text>
<line x1="389.9" y1="200.1" x2="389.9" y2="203.9" stroke="#000" stroke-width="1.25"/>
<line x1="388.25" y1="201.05" x2="391.55" y2="202.95" stroke="#000" stroke-width="1.25"/>
<line x1="388.25" y1="202.95" x2="391.55" y2="201.05" stroke="#000" stroke-width="1.25"/>
<line x1="405.9" y1="219.12" x2="405.9" y2="212.62" stroke="#000" stroke-width="1.3"/>
<line x1="402.6" y1="212.62" x2="409.2" y2="212.62" stroke="#000" stroke-width="1.3"/>
<rect x="399.4" y="219.12" width="13" height="35.88" fill="#000" stroke="#000" stroke-width="1.2"/>
<line x1="405.9" y1="255" x2="405.9" y2="257.6" stroke="#000" stroke-width="1.3"/>
<text x="0" y="0" font-size="6.6" text-anchor="end" dy="0.3em" transform="translate(406.3,264.6) rotate(-45)">U937</text>
<line x1="403.8" y1="203.9" x2="403.8" y2="207.7" stroke="#000" stroke-width="1.25"/>
<line x1="402.15" y1="204.85" x2="405.45" y2="206.75" stroke="#000" stroke-width="1.25"/>
<line x1="402.15" y1="206.75" x2="405.45" y2="204.85" stroke="#000" stroke-width="1.25"/>
<line x1="408" y1="203.9" x2="408" y2="207.7" stroke="#000" stroke-width="1.25"/>
<line x1="406.35" y1="204.85" x2="409.65" y2="206.75" stroke="#000" stroke-width="1.25"/>
<line x1="406.35" y1="206.75" x2="409.65" y2="204.85" stroke="#000" stroke-width="1.25"/>
<line x1="421.9" y1="206.97" x2="421.9" y2="195.68" stroke="#000" stroke-width="1.3"/>
<line x1="418.6" y1="195.68" x2="425.2" y2="195.68" stroke="#000" stroke-width="1.3"/>
<rect x="415.4" y="206.97" width="13" height="48.03" fill="#000" stroke="#000" stroke-width="1.2"/>
<line x1="421.9" y1="255" x2="421.9" y2="257.6" stroke="#000" stroke-width="1.3"/>
<text x="0" y="0" font-size="6.6" text-anchor="end" dy="0.3em" transform="translate(422.3,264.6) rotate(-45)">K562</text>
<line x1="421.9" y1="187.4" x2="421.9" y2="191.2" stroke="#000" stroke-width="1.25"/>
<line x1="420.25" y1="188.35" x2="423.55" y2="190.25" stroke="#000" stroke-width="1.25"/>
<line x1="420.25" y1="190.25" x2="423.55" y2="188.35" stroke="#000" stroke-width="1.25"/>
<text x="0" y="0" font-size="6.7" text-anchor="middle" dy="0.36em" transform="translate(239,198.3) rotate(-90)">Spare Reserve Capacity</text>
<text x="0" y="0" font-size="6.7" text-anchor="middle" dy="0.36em" transform="translate(247.1,199.2) rotate(-90)">(% Increase in OCR)</text>
<text x="0.2" y="284.6" font-size="13.6" text-anchor="start" dy="0.72em" font-weight="bold">C</text>
<line x1="25.1" y1="313.8" x2="25.1" y2="395.2" stroke="#000" stroke-width="1.3"/>
<line x1="22.5" y1="395.2" x2="25.1" y2="395.2" stroke="#000" stroke-width="1.3"/>
<text x="22.1" y="395.2" font-size="6.4" text-anchor="end" dy="0.36em">0</text>
<line x1="22.5" y1="381.64" x2="25.1" y2="381.64" stroke="#000" stroke-width="1.3"/>
<text x="22.1" y="381.64" font-size="6.4" text-anchor="end" dy="0.36em">20</text>
<line x1="22.5" y1="368.08" x2="25.1" y2="368.08" stroke="#000" stroke-width="1.3"/>
<text x="22.1" y="368.08" font-size="6.4" text-anchor="end" dy="0.36em">40</text>
<line x1="22.5" y1="354.52" x2="25.1" y2="354.52" stroke="#000" stroke-width="1.3"/>
<text x="22.1" y="354.52" font-size="6.4" text-anchor="end" dy="0.36em">60</text>
<line x1="22.5" y1="340.96" x2="25.1" y2="340.96" stroke="#000" stroke-width="1.3"/>
<text x="22.1" y="340.96" font-size="6.4" text-anchor="end" dy="0.36em">80</text>
<line x1="22.5" y1="327.4" x2="25.1" y2="327.4" stroke="#000" stroke-width="1.3"/>
<text x="22.1" y="327.4" font-size="6.4" text-anchor="end" dy="0.36em">100</text>
<line x1="22.5" y1="313.84" x2="25.1" y2="313.84" stroke="#000" stroke-width="1.3"/>
<text x="22.1" y="313.84" font-size="6.4" text-anchor="end" dy="0.36em">120</text>
<line x1="25.1" y1="395.2" x2="37.6" y2="395.2" stroke="#000" stroke-width="1.3"/>
<line x1="30.8" y1="395.2" x2="30.8" y2="397.8" stroke="#000" stroke-width="1.3"/>
<line x1="37.6" y1="395.2" x2="37.6" y2="397.8" stroke="#000" stroke-width="1.3"/>
<text x="30.8" y="402.6" font-size="6.4" text-anchor="middle" dy="0.36em">0</text>
<line x1="42.6" y1="395.2" x2="139" y2="395.2" stroke="#000" stroke-width="1.3"/>
<line x1="42.6" y1="395.2" x2="42.6" y2="397.8" stroke="#000" stroke-width="1.3"/>
<line x1="53.9" y1="395.2" x2="53.9" y2="397.8" stroke="#000" stroke-width="1.3"/>
<text x="53.9" y="402.8" font-size="6.4" text-anchor="middle" dy="0.36em">10<tspan font-size="4.35" dy="-2.4">-9</tspan></text>
<line x1="74.5" y1="395.2" x2="74.5" y2="397.8" stroke="#000" stroke-width="1.3"/>
<text x="74.5" y="402.8" font-size="6.4" text-anchor="middle" dy="0.36em">10<tspan font-size="4.35" dy="-2.4">-8</tspan></text>
<line x1="95.1" y1="395.2" x2="95.1" y2="397.8" stroke="#000" stroke-width="1.3"/>
<text x="95.1" y="402.8" font-size="6.4" text-anchor="middle" dy="0.36em">10<tspan font-size="4.35" dy="-2.4">-7</tspan></text>
<line x1="115.7" y1="395.2" x2="115.7" y2="397.8" stroke="#000" stroke-width="1.3"/>
<text x="115.7" y="402.8" font-size="6.4" text-anchor="middle" dy="0.36em">10<tspan font-size="4.35" dy="-2.4">-6</tspan></text>
<line x1="136.3" y1="395.2" x2="136.3" y2="397.8" stroke="#000" stroke-width="1.3"/>
<text x="136.3" y="402.8" font-size="6.4" text-anchor="middle" dy="0.36em">10<tspan font-size="4.35" dy="-2.4">-5</tspan></text>
<text x="82" y="410.2" font-size="6.8" text-anchor="middle" dy="0.36em">Antimycin (M)</text>
<text x="0" y="0" font-size="7" text-anchor="middle" dy="0.36em" transform="translate(4.9,354.6) rotate(-90)">OCR (%)</text>
<polyline points="42.6,327.4 43.1,327.4 43.6,327.4 44.1,327.4 44.6,327.4 45.1,327.4 45.6,327.4 46.1,327.4 46.6,327.4 47.1,327.4 47.6,327.4 48.1,327.4 48.6,327.4 49.1,327.4 49.6,327.4 50.1,327.4 50.6,327.4 51.1,327.4 51.6,327.4 52.1,327.41 52.6,327.41 53.1,327.41 53.6,327.41 54.1,327.41 54.6,327.41 55.1,327.41 55.6,327.41 56.1,327.42 56.6,327.42 57.1,327.42 57.6,327.43 58.1,327.43 58.6,327.43 59.1,327.44 59.6,327.44 60.1,327.45 60.6,327.46 61.1,327.47 61.6,327.48 62.1,327.49 62.6,327.5 63.1,327.51 63.6,327.53 64.1,327.55 64.6,327.57 65.1,327.59 65.6,327.62 66.1,327.66 66.6,327.69 67.1,327.74 67.6,327.78 68.1,327.84 68.6,327.9 69.1,327.98 69.6,328.06 70.1,328.16 70.6,328.26 71.1,328.39 71.6,328.53 72.1,328.69 72.6,328.87 73.1,329.08 73.6,329.32 74.1,329.59 74.6,329.9 75.1,330.24 75.6,330.63 76.1,331.08 76.6,331.57 77.1,332.13 77.6,332.75 78.1,333.45 78.6,334.22 79.1,335.08 79.6,336.02 80.1,337.06 80.6,338.19 81.1,339.42 81.6,340.75 82.1,342.17 82.6,343.68 83.1,345.28 83.6,346.95 84.1,348.69 84.6,350.48 85.1,352.3 85.6,354.15 86.1,356 86.6,357.84 87.1,359.64 87.6,361.4 88.1,363.1 88.6,364.73 89.1,366.28 89.6,367.74 90.1,369.1 90.6,370.37 91.1,371.54 91.6,372.61 92.1,373.59 92.6,374.49 93.1,375.29 93.6,376.02 94.1,376.67 94.6,377.25 95.1,377.77 95.6,378.24 96.1,378.65 96.6,379.01 97.1,379.33 97.6,379.61 98.1,379.86 98.6,380.08 99.1,380.28 99.6,380.45 100.1,380.6 100.6,380.73 101.1,380.84 101.6,380.94 102.1,381.03 102.6,381.11 103.1,381.18 103.6,381.23 104.1,381.29 104.6,381.33 105.1,381.37 105.6,381.4 106.1,381.43 106.6,381.46 107.1,381.48 107.6,381.5 108.1,381.52 108.6,381.54 109.1,381.55 109.6,381.56 110.1,381.57 110.6,381.58 111.1,381.59 111.6,381.59 112.1,381.6 112.6,381.61 113.1,381.61 113.6,381.61 114.1,381.62 114.6,381.62 115.1,381.62 115.6,381.62 116.1,381.63 116.6,381.63 117.1,381.63" fill="none" stroke="#000" stroke-width="1.7" stroke-linejoin="round"/>
<polyline points="42.6,327.8 43.1,327.84 43.6,327.89 44.1,327.94 44.6,328 45.1,328.06 45.6,328.12 46.1,328.2 46.6,328.28 47.1,328.36 47.6,328.46 48.1,328.57 48.6,328.69 49.1,328.81 49.6,328.95 50.1,329.11 50.6,329.28 51.1,329.47 51.6,329.67 52.1,329.89 52.6,330.13 53.1,330.4 53.6,330.69 54.1,331.01 54.6,331.35 55.1,331.72 55.6,332.13 56.1,332.57 56.6,333.04 57.1,333.56 57.6,334.11 58.1,334.71 58.6,335.35 59.1,336.04 59.6,336.77 60.1,337.56 60.6,338.39 61.1,339.27 61.6,340.2 62.1,341.19 62.6,342.22 63.1,343.29 63.6,344.42 64.1,345.58 64.6,346.78 65.1,348.01 65.6,349.28 66.1,350.57 66.6,351.87 67.1,353.19 67.6,354.52 68.1,355.85 68.6,357.17 69.1,358.47 69.6,359.76 70.1,361.03 70.6,362.26 71.1,363.46 71.6,364.62 72.1,365.75 72.6,366.82 73.1,367.85 73.6,368.84 74.1,369.77 74.6,370.65 75.1,371.48 75.6,372.27 76.1,373 76.6,373.69 77.1,374.33 77.6,374.93 78.1,375.48 78.6,376 79.1,376.47 79.6,376.91 80.1,377.32 80.6,377.69 81.1,378.03 81.6,378.35 82.1,378.64 82.6,378.91 83.1,379.15 83.6,379.37 84.1,379.57 84.6,379.76 85.1,379.93 85.6,380.09 86.1,380.23 86.6,380.35 87.1,380.47 87.6,380.58 88.1,380.68 88.6,380.76 89.1,380.84 89.6,380.92 90.1,380.98 90.6,381.04 91.1,381.1 91.6,381.15 92.1,381.2 92.6,381.24 93.1,381.27 93.6,381.31 94.1,381.34 94.6,381.37 95.1,381.39 95.6,381.41 96.1,381.44 96.6,381.45 97.1,381.47 97.6,381.49 98.1,381.5 98.6,381.51 99.1,381.53 99.6,381.54 100.1,381.55 100.6,381.56 101.1,381.56 101.6,381.57 102.1,381.58 102.6,381.58 103.1,381.59 103.6,381.59 104.1,381.6 104.6,381.6 105.1,381.6 105.6,381.61 106.1,381.61 106.6,381.61 107.1,381.62 107.6,381.62 108.1,381.62 108.6,381.62 109.1,381.62 109.6,381.63 110.1,381.63 110.6,381.63 111.1,381.63 111.6,381.63 112.1,381.63 112.6,381.63 113.1,381.63 113.6,381.63 114.1,381.63 114.6,381.63 115.1,381.64 115.6,381.64 116.1,381.64 116.6,381.64 117.1,381.64" fill="none" stroke="#000" stroke-width="1.7" stroke-linejoin="round"/>
<line x1="25.1" y1="361.3" x2="87.5" y2="361.3" stroke="#000" stroke-width="1.4" stroke-dasharray="2.6,1.4"/>
<line x1="70.5" y1="361.3" x2="70.5" y2="395.2" stroke="#000" stroke-width="1.4" stroke-dasharray="2.6,1.4"/>
<line x1="87.5" y1="361.3" x2="87.5" y2="395.2" stroke="#000" stroke-width="1.4" stroke-dasharray="2.6,1.4"/>
<text x="58.8" y="375.8" font-size="7" text-anchor="middle" dy="0.36em">EC50</text>
<line x1="30.5" y1="327.7" x2="38.5" y2="327.7" stroke="#000" stroke-width="1.4"/>
<line x1="30.5" y1="324.5" x2="30.5" y2="331" stroke="#000" stroke-width="0.9"/>
<line x1="28.5" y1="324.5" x2="32.5" y2="324.5" stroke="#000" stroke-width="0.9"/>
<line x1="28.5" y1="331" x2="32.5" y2="331" stroke="#000" stroke-width="0.9"/>
<rect x="28.7" y="325.7" width="3.6" height="3.6" fill="#000" stroke="#000" stroke-width="0.8"/>
<rect x="28.7" y="328.2" width="3.6" height="3.6" fill="#000" stroke="#000" stroke-width="0.8"/>
<line x1="67.8" y1="324" x2="67.8" y2="331" stroke="#000" stroke-width="0.9"/>
<line x1="65.6" y1="324" x2="70" y2="324" stroke="#000" stroke-width="0.9"/>
<line x1="65.6" y1="331" x2="70" y2="331" stroke="#000" stroke-width="0.9"/>
<rect x="66.2" y="325.7" width="3.2" height="3.2" fill="#000" stroke="#000" stroke-width="0.8"/>
<rect x="73.6" y="330.4" width="3.2" height="3.2" fill="#000" stroke="#000" stroke-width="0.8"/>
<line x1="89.4" y1="358.5" x2="89.4" y2="372.5" stroke="#000" stroke-width="0.9"/>
<line x1="87.2" y1="358.5" x2="91.6" y2="358.5" stroke="#000" stroke-width="0.9"/>
<line x1="87.2" y1="372.5" x2="91.6" y2="372.5" stroke="#000" stroke-width="0.9"/>
<rect x="87.8" y="363.8" width="3.2" height="3.2" fill="#000" stroke="#000" stroke-width="0.8"/>
<line x1="95.5" y1="375.5" x2="95.5" y2="383.5" stroke="#000" stroke-width="0.9"/>
<line x1="93.3" y1="375.5" x2="97.7" y2="375.5" stroke="#000" stroke-width="0.9"/>
<line x1="93.3" y1="383.5" x2="97.7" y2="383.5" stroke="#000" stroke-width="0.9"/>
<rect x="93.9" y="377.6" width="3.2" height="3.2" fill="#000" stroke="#000" stroke-width="0.8"/>
<rect x="115.4" y="380.6" width="3.4" height="3.4" fill="#000" stroke="#000" stroke-width="0.8"/>
<path d="M67.1 349.78L70.7 349.78L68.9 353.02Z" fill="#000" stroke="#000" stroke-width="0.6"/>
<path d="M73.4 367.18L77 367.18L75.2 370.42Z" fill="#000" stroke="#000" stroke-width="0.6"/>
<path d="M87.6 377.28L91.2 377.28L89.4 380.52Z" fill="#000" stroke="#000" stroke-width="0.6"/>
<path d="M93.7 379.38L97.3 379.38L95.5 382.62Z" fill="#000" stroke="#000" stroke-width="0.6"/>
<path d="M115.4 380.97L118.8 380.97L117.1 384.03Z" fill="#000" stroke="#000" stroke-width="0.6"/>
<rect x="109.4" y="330.9" width="3.2" height="3.2" fill="#000" stroke="#000" stroke-width="0.8"/>
<text x="118.8" y="332.5" font-size="6.9" text-anchor="start" dy="0.36em">Normal</text>
<path d="M109.1 339.99L112.9 339.99L111 343.41Z" fill="#000" stroke="#000" stroke-width="0.6"/>
<text x="118.8" y="341.7" font-size="6.9" text-anchor="start" dy="0.36em">AML</text>
<text x="179.2" y="287.2" font-size="13.6" text-anchor="start" dy="0.72em" font-weight="bold">D</text>
<line x1="199.5" y1="324.5" x2="199.5" y2="403.75" stroke="#000" stroke-width="1.3"/>
<line x1="196.9" y1="403.75" x2="199.5" y2="403.75" stroke="#000" stroke-width="1.3"/>
<text x="196.5" y="403.75" font-size="6.4" text-anchor="end" dy="0.36em">0</text>
<line x1="196.9" y1="387.9" x2="199.5" y2="387.9" stroke="#000" stroke-width="1.3"/>
<text x="196.5" y="387.9" font-size="6.4" text-anchor="end" dy="0.36em">10</text>
<line x1="196.9" y1="372.05" x2="199.5" y2="372.05" stroke="#000" stroke-width="1.3"/>
<text x="196.5" y="372.05" font-size="6.4" text-anchor="end" dy="0.36em">20</text>
<line x1="196.9" y1="356.2" x2="199.5" y2="356.2" stroke="#000" stroke-width="1.3"/>
<text x="196.5" y="356.2" font-size="6.4" text-anchor="end" dy="0.36em">30</text>
<line x1="196.9" y1="340.35" x2="199.5" y2="340.35" stroke="#000" stroke-width="1.3"/>
<text x="196.5" y="340.35" font-size="6.4" text-anchor="end" dy="0.36em">40</text>
<line x1="196.9" y1="324.5" x2="199.5" y2="324.5" stroke="#000" stroke-width="1.3"/>
<text x="196.5" y="324.5" font-size="6.4" text-anchor="end" dy="0.36em">50</text>
<line x1="199.5" y1="403.75" x2="266.3" y2="403.75" stroke="#000" stroke-width="1.3"/>
<line x1="217.5" y1="403.75" x2="217.5" y2="406.35" stroke="#000" stroke-width="1.3"/>
<line x1="248.75" y1="403.75" x2="248.75" y2="406.35" stroke="#000" stroke-width="1.3"/>
<text x="217.5" y="412.75" font-size="6.8" text-anchor="middle" dy="0.36em">Normal</text>
<text x="248.75" y="412.75" font-size="6.8" text-anchor="middle" dy="0.36em">AML</text>
<circle cx="216.25" cy="328" r="1.45" fill="#000" stroke="#000" stroke-width="0.4"/>
<circle cx="211.75" cy="342.5" r="1.45" fill="#000" stroke="#000" stroke-width="0.4"/>
<circle cx="216.75" cy="344.5" r="1.45" fill="#000" stroke="#000" stroke-width="0.4"/>
<circle cx="216.25" cy="358.25" r="1.45" fill="#000" stroke="#000" stroke-width="0.4"/>
<circle cx="221.25" cy="356.75" r="1.45" fill="#000" stroke="#000" stroke-width="0.4"/>
<circle cx="248.75" cy="330.5" r="1.45" fill="#000" stroke="#000" stroke-width="0.4"/>
<circle cx="248.75" cy="341.25" r="1.45" fill="#000" stroke="#000" stroke-width="0.4"/>
<circle cx="248.75" cy="346.25" r="1.45" fill="#000" stroke="#000" stroke-width="0.4"/>
<circle cx="248.75" cy="359.25" r="1.45" fill="#000" stroke="#000" stroke-width="0.4"/>
<circle cx="248.75" cy="365" r="1.45" fill="#000" stroke="#000" stroke-width="0.4"/>
<circle cx="243.75" cy="370.75" r="1.45" fill="#000" stroke="#000" stroke-width="0.4"/>
<circle cx="249.5" cy="371.25" r="1.45" fill="#000" stroke="#000" stroke-width="0.4"/>
<circle cx="243.75" cy="375.75" r="1.45" fill="#000" stroke="#000" stroke-width="0.4"/>
<circle cx="253.75" cy="377.5" r="1.45" fill="#000" stroke="#000" stroke-width="0.4"/>
<circle cx="243.75" cy="380.5" r="1.45" fill="#000" stroke="#000" stroke-width="0.4"/>
<circle cx="248.75" cy="382" r="1.45" fill="#000" stroke="#000" stroke-width="0.4"/>
<circle cx="248.75" cy="394.25" r="1.45" fill="#000" stroke="#000" stroke-width="0.4"/>
<line x1="208.75" y1="345.75" x2="228" y2="345.75" stroke="#000" stroke-width="1.3"/>
<line x1="238" y1="366.25" x2="259.5" y2="366.25" stroke="#000" stroke-width="1.3"/>
<line x1="214.5" y1="313.25" x2="248.75" y2="313.25" stroke="#000" stroke-width="1.3"/>
<line x1="232.5" y1="303.6" x2="232.5" y2="307.4" stroke="#000" stroke-width="1.25"/>
<line x1="230.85" y1="304.55" x2="234.15" y2="306.45" stroke="#000" stroke-width="1.25"/>
<line x1="230.85" y1="306.45" x2="234.15" y2="304.55" stroke="#000" stroke-width="1.25"/>
<text x="0" y="0" font-size="6.81" text-anchor="middle" dy="0.36em" transform="translate(177.8,363.7) rotate(-90)"><tspan font-weight="bold">[Rotenone]</tspan> at EC50 of OCR (nM)</text>
<line x1="325.6" y1="323.25" x2="325.6" y2="402.5" stroke="#000" stroke-width="1.3"/>
<line x1="323" y1="402.5" x2="325.6" y2="402.5" stroke="#000" stroke-width="1.3"/>
<text x="322.6" y="402.5" font-size="6.4" text-anchor="end" dy="0.36em">0</text>
<line x1="323" y1="382.7" x2="325.6" y2="382.7" stroke="#000" stroke-width="1.3"/>
<text x="322.6" y="382.7" font-size="6.4" text-anchor="end" dy="0.36em">10</text>
<line x1="323" y1="362.9" x2="325.6" y2="362.9" stroke="#000" stroke-width="1.3"/>
<text x="322.6" y="362.9" font-size="6.4" text-anchor="end" dy="0.36em">20</text>
<line x1="323" y1="343.1" x2="325.6" y2="343.1" stroke="#000" stroke-width="1.3"/>
<text x="322.6" y="343.1" font-size="6.4" text-anchor="end" dy="0.36em">30</text>
<line x1="323" y1="323.3" x2="325.6" y2="323.3" stroke="#000" stroke-width="1.3"/>
<text x="322.6" y="323.3" font-size="6.4" text-anchor="end" dy="0.36em">40</text>
<line x1="325.6" y1="402.5" x2="386.25" y2="402.5" stroke="#000" stroke-width="1.3"/>
<line x1="342.5" y1="402.5" x2="342.5" y2="405.1" stroke="#000" stroke-width="1.3"/>
<line x1="373.75" y1="402.5" x2="373.75" y2="405.1" stroke="#000" stroke-width="1.3"/>
<text x="342.5" y="411.5" font-size="6.8" text-anchor="middle" dy="0.36em">Normal</text>
<text x="373.75" y="411.5" font-size="6.8" text-anchor="middle" dy="0.36em">AML</text>
<circle cx="341.25" cy="335.75" r="1.45" fill="#000" stroke="#000" stroke-width="0.4"/>
<circle cx="341.25" cy="351.25" r="1.45" fill="#000" stroke="#000" stroke-width="0.4"/>
<circle cx="346.25" cy="349.25" r="1.45" fill="#000" stroke="#000" stroke-width="0.4"/>
<circle cx="373.75" cy="354.25" r="1.45" fill="#000" stroke="#000" stroke-width="0.4"/>
<circle cx="368.75" cy="366.25" r="1.45" fill="#000" stroke="#000" stroke-width="0.4"/>
<circle cx="373.75" cy="368" r="1.45" fill="#000" stroke="#000" stroke-width="0.4"/>
<circle cx="378.75" cy="366.25" r="1.45" fill="#000" stroke="#000" stroke-width="0.4"/>
<circle cx="368.75" cy="370.5" r="1.45" fill="#000" stroke="#000" stroke-width="0.4"/>
<circle cx="373.75" cy="372.5" r="1.45" fill="#000" stroke="#000" stroke-width="0.4"/>
<circle cx="368.75" cy="376.75" r="1.45" fill="#000" stroke="#000" stroke-width="0.4"/>
<circle cx="378.75" cy="377" r="1.45" fill="#000" stroke="#000" stroke-width="0.4"/>
<circle cx="378.75" cy="380" r="1.45" fill="#000" stroke="#000" stroke-width="0.4"/>
<circle cx="368.75" cy="380.5" r="1.45" fill="#000" stroke="#000" stroke-width="0.4"/>
<circle cx="373.75" cy="382.5" r="1.45" fill="#000" stroke="#000" stroke-width="0.4"/>
<circle cx="373.75" cy="387" r="1.45" fill="#000" stroke="#000" stroke-width="0.4"/>
<line x1="331.25" y1="345.5" x2="353" y2="345.5" stroke="#000" stroke-width="1.3"/>
<line x1="362.5" y1="373.75" x2="385" y2="373.75" stroke="#000" stroke-width="1.3"/>
<line x1="341.25" y1="325" x2="379.5" y2="325" stroke="#000" stroke-width="1.3"/>
<line x1="355.3" y1="316.85" x2="355.3" y2="320.65" stroke="#000" stroke-width="1.25"/>
<line x1="353.65" y1="317.8" x2="356.95" y2="319.7" stroke="#000" stroke-width="1.25"/>
<line x1="353.65" y1="319.7" x2="356.95" y2="317.8" stroke="#000" stroke-width="1.25"/>
<line x1="359.5" y1="316.85" x2="359.5" y2="320.65" stroke="#000" stroke-width="1.25"/>
<line x1="357.85" y1="317.8" x2="361.15" y2="319.7" stroke="#000" stroke-width="1.25"/>
<line x1="357.85" y1="319.7" x2="361.15" y2="317.8" stroke="#000" stroke-width="1.25"/>
<line x1="363.7" y1="316.85" x2="363.7" y2="320.65" stroke="#000" stroke-width="1.25"/>
<line x1="362.05" y1="317.8" x2="365.35" y2="319.7" stroke="#000" stroke-width="1.25"/>
<line x1="362.05" y1="319.7" x2="365.35" y2="317.8" stroke="#000" stroke-width="1.25"/>
<text x="0" y="0" font-size="6.67" text-anchor="middle" dy="0.36em" transform="translate(306.6,361.5) rotate(-90)"><tspan font-weight="bold">[Antimycin]</tspan> at EC50 of OCR (nM)</text>
<g transform="translate(0.7,0.6)">
<line x1="454.5" y1="322" x2="454.5" y2="400.75" stroke="#000" stroke-width="1.3"/>
<line x1="451.9" y1="400.75" x2="454.5" y2="400.75" stroke="#000" stroke-width="1.3"/>
<text x="451.5" y="400.75" font-size="6.4" text-anchor="end" dy="0.36em">0</text>
<line x1="451.9" y1="385" x2="454.5" y2="385" stroke="#000" stroke-width="1.3"/>
<text x="451.5" y="385" font-size="6.4" text-anchor="end" dy="0.36em">50</text>
<line x1="451.9" y1="369.25" x2="454.5" y2="369.25" stroke="#000" stroke-width="1.3"/>
<text x="451.5" y="369.25" font-size="6.4" text-anchor="end" dy="0.36em">100</text>
<line x1="451.9" y1="353.5" x2="454.5" y2="353.5" stroke="#000" stroke-width="1.3"/>
<text x="451.5" y="353.5" font-size="6.4" text-anchor="end" dy="0.36em">150</text>
<line x1="451.9" y1="337.75" x2="454.5" y2="337.75" stroke="#000" stroke-width="1.3"/>
<text x="451.5" y="337.75" font-size="6.4" text-anchor="end" dy="0.36em">200</text>
<line x1="451.9" y1="322" x2="454.5" y2="322" stroke="#000" stroke-width="1.3"/>
<text x="451.5" y="322" font-size="6.4" text-anchor="end" dy="0.36em">250</text>
<line x1="454.5" y1="400.75" x2="518.75" y2="400.75" stroke="#000" stroke-width="1.3"/>
<line x1="471.25" y1="400.75" x2="471.25" y2="403.35" stroke="#000" stroke-width="1.3"/>
<line x1="503" y1="400.75" x2="503" y2="403.35" stroke="#000" stroke-width="1.3"/>
<text x="471.25" y="409.75" font-size="6.8" text-anchor="middle" dy="0.36em">Normal</text>
<text x="503" y="409.75" font-size="6.8" text-anchor="middle" dy="0.36em">AML</text>
<circle cx="471.25" cy="337" r="1.45" fill="#000" stroke="#000" stroke-width="0.4"/>
<circle cx="466.25" cy="345.75" r="1.45" fill="#000" stroke="#000" stroke-width="0.4"/>
<circle cx="471.25" cy="350" r="1.45" fill="#000" stroke="#000" stroke-width="0.4"/>
<circle cx="471.25" cy="363.75" r="1.45" fill="#000" stroke="#000" stroke-width="0.4"/>
<circle cx="503.75" cy="350.75" r="1.45" fill="#000" stroke="#000" stroke-width="0.4"/>
<circle cx="498.75" cy="352.5" r="1.45" fill="#000" stroke="#000" stroke-width="0.4"/>
<circle cx="503.75" cy="357.5" r="1.45" fill="#000" stroke="#000" stroke-width="0.4"/>
<circle cx="503.75" cy="367.5" r="1.45" fill="#000" stroke="#000" stroke-width="0.4"/>
<circle cx="498.75" cy="370.75" r="1.45" fill="#000" stroke="#000" stroke-width="0.4"/>
<circle cx="503.75" cy="374.25" r="1.45" fill="#000" stroke="#000" stroke-width="0.4"/>
<circle cx="507.5" cy="381.25" r="1.45" fill="#000" stroke="#000" stroke-width="0.4"/>
<circle cx="503.25" cy="383.25" r="1.45" fill="#000" stroke="#000" stroke-width="0.4"/>
<line x1="461.25" y1="349.25" x2="482.5" y2="349.25" stroke="#000" stroke-width="1.3"/>
<line x1="493.75" y1="367" x2="514.25" y2="367" stroke="#000" stroke-width="1.3"/>
<line x1="470" y1="328.75" x2="504.5" y2="328.75" stroke="#000" stroke-width="1.3"/>
<line x1="487.5" y1="319.35" x2="487.5" y2="323.15" stroke="#000" stroke-width="1.25"/>
<line x1="485.85" y1="320.3" x2="489.15" y2="322.2" stroke="#000" stroke-width="1.25"/>
<line x1="485.85" y1="322.2" x2="489.15" y2="320.3" stroke="#000" stroke-width="1.25"/>
<text x="0" y="0" font-size="6.59" text-anchor="middle" dy="0.36em" transform="translate(431.4,357.9) rotate(-90)"><tspan font-weight="bold">[Oligomycin]</tspan> at EC50 of OCR (nM)</text>
</g>
<text x="0.2" y="424.6" font-size="13.6" text-anchor="start" dy="0.72em" font-weight="bold">E</text>
<line x1="25.1" y1="450.8" x2="25.1" y2="531.2" stroke="#000" stroke-width="1.3"/>
<line x1="22.5" y1="531.2" x2="25.1" y2="531.2" stroke="#000" stroke-width="1.3"/>
<text x="22.1" y="531.2" font-size="6.4" text-anchor="end" dy="0.36em">0</text>
<line x1="22.5" y1="517.8" x2="25.1" y2="517.8" stroke="#000" stroke-width="1.3"/>
<text x="22.1" y="517.8" font-size="6.4" text-anchor="end" dy="0.36em">20</text>
<line x1="22.5" y1="504.4" x2="25.1" y2="504.4" stroke="#000" stroke-width="1.3"/>
<text x="22.1" y="504.4" font-size="6.4" text-anchor="end" dy="0.36em">40</text>
<line x1="22.5" y1="491" x2="25.1" y2="491" stroke="#000" stroke-width="1.3"/>
<text x="22.1" y="491" font-size="6.4" text-anchor="end" dy="0.36em">60</text>
<line x1="22.5" y1="477.6" x2="25.1" y2="477.6" stroke="#000" stroke-width="1.3"/>
<text x="22.1" y="477.6" font-size="6.4" text-anchor="end" dy="0.36em">80</text>
<line x1="22.5" y1="464.2" x2="25.1" y2="464.2" stroke="#000" stroke-width="1.3"/>
<text x="22.1" y="464.2" font-size="6.4" text-anchor="end" dy="0.36em">100</text>
<line x1="22.5" y1="450.8" x2="25.1" y2="450.8" stroke="#000" stroke-width="1.3"/>
<text x="22.1" y="450.8" font-size="6.4" text-anchor="end" dy="0.36em">120</text>
<line x1="25.1" y1="531.2" x2="37.2" y2="531.2" stroke="#000" stroke-width="1.3"/>
<line x1="30.8" y1="531.2" x2="30.8" y2="533.8" stroke="#000" stroke-width="1.3"/>
<line x1="37.2" y1="531.2" x2="37.2" y2="533.8" stroke="#000" stroke-width="1.3"/>
<text x="30.8" y="538.6" font-size="6.4" text-anchor="middle" dy="0.36em">0</text>
<line x1="42.8" y1="531.2" x2="139" y2="531.2" stroke="#000" stroke-width="1.3"/>
<line x1="43.3" y1="531.2" x2="43.3" y2="533.8" stroke="#000" stroke-width="1.3"/>
<text x="43.3" y="538.8" font-size="6.4" text-anchor="middle" dy="0.36em">10<tspan font-size="4.35" dy="-2.4">-5</tspan></text>
<line x1="70.4" y1="531.2" x2="70.4" y2="533.8" stroke="#000" stroke-width="1.3"/>
<text x="70.4" y="538.8" font-size="6.4" text-anchor="middle" dy="0.36em">10<tspan font-size="4.35" dy="-2.4">-4</tspan></text>
<line x1="97.5" y1="531.2" x2="97.5" y2="533.8" stroke="#000" stroke-width="1.3"/>
<text x="97.5" y="538.8" font-size="6.4" text-anchor="middle" dy="0.36em">10<tspan font-size="4.35" dy="-2.4">-3</tspan></text>
<line x1="124.6" y1="531.2" x2="124.6" y2="533.8" stroke="#000" stroke-width="1.3"/>
<text x="124.6" y="538.8" font-size="6.4" text-anchor="middle" dy="0.36em">10<tspan font-size="4.35" dy="-2.4">-2</tspan></text>
<text x="78.9" y="550" font-size="6.8" text-anchor="middle" dy="0.36em">NaN<tspan font-size="4.6" dy="1.6">3</tspan><tspan dy="-1.6"> (M)</tspan></text>
<text x="0" y="0" font-size="7" text-anchor="middle" dy="0.36em" transform="translate(4.9,490.7) rotate(-90)">OCR (%)</text>
<polyline points="42.8,467.55 43.3,467.55 43.8,467.55 44.3,467.55 44.8,467.55 45.3,467.55 45.8,467.55 46.3,467.55 46.8,467.55 47.3,467.55 47.8,467.55 48.3,467.55 48.8,467.55 49.3,467.55 49.8,467.55 50.3,467.55 50.8,467.55 51.3,467.55 51.8,467.55 52.3,467.55 52.8,467.55 53.3,467.55 53.8,467.55 54.3,467.55 54.8,467.55 55.3,467.55 55.8,467.55 56.3,467.55 56.8,467.55 57.3,467.55 57.8,467.55 58.3,467.55 58.8,467.55 59.3,467.55 59.8,467.55 60.3,467.55 60.8,467.55 61.3,467.55 61.8,467.55 62.3,467.55 62.8,467.55 63.3,467.55 63.8,467.55 64.3,467.55 64.8,467.55 65.3,467.55 65.8,467.55 66.3,467.55 66.8,467.55 67.3,467.55 67.8,467.55 68.3,467.55 68.8,467.55 69.3,467.55 69.8,467.55 70.3,467.55 70.8,467.55 71.3,467.55 71.8,467.55 72.3,467.56 72.8,467.56 73.3,467.56 73.8,467.56 74.3,467.56 74.8,467.56 75.3,467.56 75.8,467.57 76.3,467.57 76.8,467.57 77.3,467.58 77.8,467.58 78.3,467.58 78.8,467.59 79.3,467.6 79.8,467.6 80.3,467.61 80.8,467.62 81.3,467.64 81.8,467.65 82.3,467.67 82.8,467.69 83.3,467.71 83.8,467.73 84.3,467.77 84.8,467.8 85.3,467.84 85.8,467.89 86.3,467.94 86.8,468.01 87.3,468.08 87.8,468.17 88.3,468.27 88.8,468.39 89.3,468.52 89.8,468.68 90.3,468.86 90.8,469.06 91.3,469.3 91.8,469.58 92.3,469.89 92.8,470.25 93.3,470.66 93.8,471.12 94.3,471.64 94.8,472.24 95.3,472.9 95.8,473.63 96.3,474.45 96.8,475.35 97.3,476.33 97.8,477.39 98.3,478.54 98.8,479.75 99.3,481.03 99.8,482.36 100.3,483.73 100.8,485.13 101.3,486.54 101.8,487.94 102.3,489.32 102.8,490.66 103.3,491.95 103.8,493.18 104.3,494.33 104.8,495.41 105.3,496.41 105.8,497.33 106.3,498.16 106.8,498.91 107.3,499.59 107.8,500.19 108.3,500.73 108.8,501.2 109.3,501.62 109.8,501.99 110.3,502.31 110.8,502.6 111.3,502.84 111.8,503.05 112.3,503.24 112.8,503.4 113.3,503.54 113.8,503.66" fill="none" stroke="#000" stroke-width="1.7" stroke-linejoin="round"/>
<polyline points="42.8,466.05 43.3,466.13 43.8,466.21 44.3,466.3 44.8,466.39 45.3,466.48 45.8,466.58 46.3,466.68 46.8,466.79 47.3,466.9 47.8,467.01 48.3,467.13 48.8,467.25 49.3,467.38 49.8,467.51 50.3,467.65 50.8,467.79 51.3,467.94 51.8,468.1 52.3,468.26 52.8,468.42 53.3,468.6 53.8,468.77 54.3,468.96 54.8,469.15 55.3,469.35 55.8,469.56 56.3,469.77 56.8,469.99 57.3,470.22 57.8,470.45 58.3,470.7 58.8,470.95 59.3,471.21 59.8,471.47 60.3,471.75 60.8,472.04 61.3,472.33 61.8,472.63 62.3,472.94 62.8,473.26 63.3,473.59 63.8,473.93 64.3,474.28 64.8,474.64 65.3,475 65.8,475.38 66.3,475.76 66.8,476.16 67.3,476.56 67.8,476.97 68.3,477.4 68.8,477.83 69.3,478.26 69.8,478.71 70.3,479.17 70.8,479.63 71.3,480.1 71.8,480.58 72.3,481.07 72.8,481.56 73.3,482.06 73.8,482.57 74.3,483.08 74.8,483.6 75.3,484.13 75.8,484.65 76.3,485.19 76.8,485.72 77.3,486.26 77.8,486.81 78.3,487.35 78.8,487.9 79.3,488.45 79.8,489 80.3,489.54 80.8,490.09 81.3,490.64 81.8,491.19 82.3,491.74 82.8,492.28 83.3,492.82 83.8,493.36 84.3,493.89 84.8,494.42 85.3,494.94 85.8,495.46 86.3,495.98 86.8,496.49 87.3,496.99 87.8,497.48 88.3,497.97 88.8,498.45 89.3,498.92 89.8,499.39 90.3,499.85 90.8,500.3 91.3,500.74 91.8,501.17 92.3,501.59 92.8,502.01 93.3,502.41 93.8,502.81 94.3,503.19 94.8,503.57 95.3,503.94 95.8,504.3 96.3,504.65 96.8,504.99 97.3,505.32 97.8,505.64 98.3,505.96 98.8,506.26 99.3,506.56 99.8,506.84 100.3,507.12 100.8,507.39 101.3,507.65 101.8,507.9 102.3,508.15 102.8,508.39 103.3,508.62 103.8,508.84 104.3,509.05 104.8,509.26 105.3,509.46 105.8,509.65 106.3,509.84 106.8,510.02 107.3,510.19 107.8,510.36 108.3,510.52 108.8,510.68 109.3,510.83 109.8,510.97 110.3,511.11 110.8,511.24 111.3,511.37 111.8,511.5 112.3,511.62 112.8,511.73 113.3,511.84 113.8,511.95" fill="none" stroke="#000" stroke-width="1.7" stroke-linejoin="round"/>
<line x1="25.1" y1="480.9" x2="99.3" y2="480.9" stroke="#000" stroke-width="1.4" stroke-dasharray="2.6,1.4"/>
<line x1="72.2" y1="480.9" x2="72.2" y2="531.2" stroke="#000" stroke-width="1.4" stroke-dasharray="2.6,1.4"/>
<line x1="99.3" y1="480.9" x2="99.3" y2="531.2" stroke="#000" stroke-width="1.4" stroke-dasharray="2.6,1.4"/>
<text x="62.5" y="500" font-size="7" text-anchor="middle" dy="0.36em">EC25</text>
<line x1="30.3" y1="464.2" x2="37.5" y2="464.2" stroke="#000" stroke-width="1.2"/>
<line x1="30.3" y1="467.4" x2="37.5" y2="467.4" stroke="#000" stroke-width="1.2"/>
<line x1="30.3" y1="457.5" x2="30.3" y2="469" stroke="#000" stroke-width="0.9"/>
<line x1="28.1" y1="457.5" x2="32.5" y2="457.5" stroke="#000" stroke-width="0.9"/>
<line x1="28.1" y1="469" x2="32.5" y2="469" stroke="#000" stroke-width="0.9"/>
<rect x="28.5" y="461.5" width="3.6" height="3.6" fill="#000" stroke="#000" stroke-width="0.8"/>
<line x1="61.4" y1="465.5" x2="61.4" y2="476" stroke="#000" stroke-width="0.9"/>
<line x1="59.2" y1="465.5" x2="63.6" y2="465.5" stroke="#000" stroke-width="0.9"/>
<line x1="59.2" y1="476" x2="63.6" y2="476" stroke="#000" stroke-width="0.9"/>
<rect x="59.8" y="469" width="3.2" height="3.2" fill="#000" stroke="#000" stroke-width="0.8"/>
<rect x="67.7" y="469" width="3.2" height="3.2" fill="#000" stroke="#000" stroke-width="0.8"/>
<line x1="97.2" y1="464.6" x2="97.2" y2="481.9" stroke="#000" stroke-width="0.9"/>
<line x1="95" y1="464.6" x2="99.4" y2="464.6" stroke="#000" stroke-width="0.9"/>
<line x1="95" y1="481.9" x2="99.4" y2="481.9" stroke="#000" stroke-width="0.9"/>
<rect x="95.6" y="472.5" width="3.2" height="3.2" fill="#000" stroke="#000" stroke-width="0.8"/>
<line x1="105.3" y1="490.5" x2="105.3" y2="499" stroke="#000" stroke-width="0.9"/>
<line x1="103.1" y1="490.5" x2="107.5" y2="490.5" stroke="#000" stroke-width="0.9"/>
<line x1="103.1" y1="499" x2="107.5" y2="499" stroke="#000" stroke-width="0.9"/>
<rect x="103.7" y="493.3" width="3.2" height="3.2" fill="#000" stroke="#000" stroke-width="0.8"/>
<rect x="111.9" y="500.6" width="3.4" height="3.4" fill="#000" stroke="#000" stroke-width="0.8"/>
<path d="M67.5 474.88L71.1 474.88L69.3 478.12Z" fill="#000" stroke="#000" stroke-width="0.6"/>
<path d="M95.4 503.68L99 503.68L97.2 506.92Z" fill="#000" stroke="#000" stroke-width="0.6"/>
<path d="M103.5 508.78L107.1 508.78L105.3 512.02Z" fill="#000" stroke="#000" stroke-width="0.6"/>
<path d="M111.8 509.68L115.4 509.68L113.6 512.92Z" fill="#000" stroke="#000" stroke-width="0.6"/>
<rect x="107.4" y="453.1" width="3.2" height="3.2" fill="#000" stroke="#000" stroke-width="0.8"/>
<text x="117.1" y="454.7" font-size="6.9" text-anchor="start" dy="0.36em">Normal</text>
<path d="M107.1 461.19L110.9 461.19L109 464.61Z" fill="#000" stroke="#000" stroke-width="0.6"/>
<text x="117.1" y="462.9" font-size="6.9" text-anchor="start" dy="0.36em">AML</text>
<line x1="197.7" y1="460.8" x2="197.7" y2="540.5" stroke="#000" stroke-width="1.3"/>
<line x1="195.1" y1="540.5" x2="197.7" y2="540.5" stroke="#000" stroke-width="1.3"/>
<text x="194.7" y="540.5" font-size="6.4" text-anchor="end" dy="0.36em">0.0</text>
<line x1="195.1" y1="527.22" x2="197.7" y2="527.22" stroke="#000" stroke-width="1.3"/>
<text x="194.7" y="527.22" font-size="6.4" text-anchor="end" dy="0.36em">0.2</text>
<line x1="195.1" y1="513.94" x2="197.7" y2="513.94" stroke="#000" stroke-width="1.3"/>
<text x="194.7" y="513.94" font-size="6.4" text-anchor="end" dy="0.36em">0.4</text>
<line x1="195.1" y1="500.66" x2="197.7" y2="500.66" stroke="#000" stroke-width="1.3"/>
<text x="194.7" y="500.66" font-size="6.4" text-anchor="end" dy="0.36em">0.6</text>
<line x1="195.1" y1="487.38" x2="197.7" y2="487.38" stroke="#000" stroke-width="1.3"/>
<text x="194.7" y="487.38" font-size="6.4" text-anchor="end" dy="0.36em">0.8</text>
<line x1="195.1" y1="474.1" x2="197.7" y2="474.1" stroke="#000" stroke-width="1.3"/>
<text x="194.7" y="474.1" font-size="6.4" text-anchor="end" dy="0.36em">1.0</text>
<line x1="195.1" y1="460.82" x2="197.7" y2="460.82" stroke="#000" stroke-width="1.3"/>
<text x="194.7" y="460.82" font-size="6.4" text-anchor="end" dy="0.36em">1.2</text>
<line x1="197.7" y1="540.5" x2="262.7" y2="540.5" stroke="#000" stroke-width="1.3"/>
<line x1="213.4" y1="540.5" x2="213.4" y2="543.1" stroke="#000" stroke-width="1.3"/>
<line x1="246.2" y1="540.5" x2="246.2" y2="543.1" stroke="#000" stroke-width="1.3"/>
<text x="213.4" y="549.6" font-size="6.8" text-anchor="middle" dy="0.36em">Normal</text>
<text x="246.2" y="549.6" font-size="6.8" text-anchor="middle" dy="0.36em">AML</text>
<circle cx="213.4" cy="463.8" r="1.45" fill="#000" stroke="#000" stroke-width="0.4"/>
<circle cx="213.4" cy="478.2" r="1.45" fill="#000" stroke="#000" stroke-width="0.4"/>
<circle cx="213.4" cy="504.9" r="1.45" fill="#000" stroke="#000" stroke-width="0.4"/>
<circle cx="246.2" cy="518.1" r="1.45" fill="#000" stroke="#000" stroke-width="0.4"/>
<circle cx="246.2" cy="523.9" r="1.45" fill="#000" stroke="#000" stroke-width="0.4"/>
<circle cx="246.2" cy="534.2" r="1.45" fill="#000" stroke="#000" stroke-width="0.4"/>
<line x1="202.8" y1="482.3" x2="224.9" y2="482.3" stroke="#000" stroke-width="1.3"/>
<line x1="235.1" y1="525.7" x2="257.2" y2="525.7" stroke="#000" stroke-width="1.3"/>
<line x1="211.1" y1="455.1" x2="248.9" y2="455.1" stroke="#000" stroke-width="1.3"/>
<line x1="228.4" y1="446.7" x2="228.4" y2="450.5" stroke="#000" stroke-width="1.25"/>
<line x1="226.75" y1="447.65" x2="230.05" y2="449.55" stroke="#000" stroke-width="1.25"/>
<line x1="226.75" y1="449.55" x2="230.05" y2="447.65" stroke="#000" stroke-width="1.25"/>
<text transform="translate(173.8,502) rotate(-90)" font-size="7.0" text-anchor="middle" dy="0.36em"><tspan font-weight="bold">[NaN<tspan font-size="4.8" dy="1.6">3</tspan><tspan dy="-1.6">]</tspan></tspan> at EC25 of OCR (mM)</text>
<text x="278.6" y="429.4" font-size="13.6" text-anchor="start" dy="0.72em" font-weight="bold">F</text>
<line x1="326.2" y1="456.9" x2="326.2" y2="536.1" stroke="#000" stroke-width="1.3"/>
<line x1="323.6" y1="536.1" x2="326.2" y2="536.1" stroke="#000" stroke-width="1.3"/>
<text x="323.2" y="536.1" font-size="6.4" text-anchor="end" dy="0.36em">0</text>
<line x1="323.6" y1="522.9" x2="326.2" y2="522.9" stroke="#000" stroke-width="1.3"/>
<text x="323.2" y="522.9" font-size="6.4" text-anchor="end" dy="0.36em">20</text>
<line x1="323.6" y1="509.7" x2="326.2" y2="509.7" stroke="#000" stroke-width="1.3"/>
<text x="323.2" y="509.7" font-size="6.4" text-anchor="end" dy="0.36em">40</text>
<line x1="323.6" y1="496.5" x2="326.2" y2="496.5" stroke="#000" stroke-width="1.3"/>
<text x="323.2" y="496.5" font-size="6.4" text-anchor="end" dy="0.36em">60</text>
<line x1="323.6" y1="483.3" x2="326.2" y2="483.3" stroke="#000" stroke-width="1.3"/>
<text x="323.2" y="483.3" font-size="6.4" text-anchor="end" dy="0.36em">80</text>
<line x1="323.6" y1="470.1" x2="326.2" y2="470.1" stroke="#000" stroke-width="1.3"/>
<text x="323.2" y="470.1" font-size="6.4" text-anchor="end" dy="0.36em">100</text>
<line x1="323.6" y1="456.9" x2="326.2" y2="456.9" stroke="#000" stroke-width="1.3"/>
<text x="323.2" y="456.9" font-size="6.4" text-anchor="end" dy="0.36em">120</text>
<line x1="326.2" y1="536.1" x2="488" y2="536.1" stroke="#000" stroke-width="1.3"/>
<line x1="342.7" y1="511.94" x2="342.7" y2="507.06" stroke="#000" stroke-width="1.3"/>
<line x1="335.9" y1="507.06" x2="349.5" y2="507.06" stroke="#000" stroke-width="1.3"/>
<rect x="329.6" y="511.94" width="26.2" height="24.16" fill="#d3d3d3" stroke="#000" stroke-width="1.2"/>
<line x1="342.7" y1="536.1" x2="342.7" y2="538.7" stroke="#000" stroke-width="1.3"/>
<text x="0" y="0" font-size="6.5" text-anchor="end" dy="0.3em" transform="translate(343.9,545.7) rotate(-45)">Normal</text>
<line x1="374.9" y1="488.58" x2="374.9" y2="466.14" stroke="#000" stroke-width="1.3"/>
<line x1="368.1" y1="466.14" x2="381.7" y2="466.14" stroke="#000" stroke-width="1.3"/>
<rect x="361.8" y="488.58" width="26.2" height="47.52" fill="#d3d3d3" stroke="#000" stroke-width="1.2"/>
<line x1="374.9" y1="536.1" x2="374.9" y2="538.7" stroke="#000" stroke-width="1.3"/>
<text x="0" y="0" font-size="6.5" text-anchor="end" dy="0.3em" transform="translate(376.1,545.7) rotate(-45)">MCF-7</text>
<line x1="407.1" y1="520.26" x2="407.1" y2="511.68" stroke="#000" stroke-width="1.3"/>
<line x1="400.3" y1="511.68" x2="413.9" y2="511.68" stroke="#000" stroke-width="1.3"/>
<rect x="394" y="520.26" width="26.2" height="15.84" fill="#d3d3d3" stroke="#000" stroke-width="1.2"/>
<line x1="407.1" y1="536.1" x2="407.1" y2="538.7" stroke="#000" stroke-width="1.3"/>
<text x="0" y="0" font-size="6.5" text-anchor="end" dy="0.3em" transform="translate(408.3,545.7) rotate(-45)">OVCAR-3</text>
<line x1="439.3" y1="530.82" x2="439.3" y2="528.84" stroke="#000" stroke-width="1.3"/>
<line x1="432.5" y1="528.84" x2="446.1" y2="528.84" stroke="#000" stroke-width="1.3"/>
<rect x="426.2" y="530.82" width="26.2" height="5.28" fill="#000" stroke="#000" stroke-width="1.2"/>
<line x1="439.3" y1="536.1" x2="439.3" y2="538.7" stroke="#000" stroke-width="1.3"/>
<text x="0" y="0" font-size="6.5" text-anchor="end" dy="0.3em" transform="translate(440.5,545.7) rotate(-45)">OCI-AML-2</text>
<line x1="435.1" y1="519.3" x2="435.1" y2="523.1" stroke="#000" stroke-width="1.25"/>
<line x1="433.45" y1="520.25" x2="436.75" y2="522.15" stroke="#000" stroke-width="1.25"/>
<line x1="433.45" y1="522.15" x2="436.75" y2="520.25" stroke="#000" stroke-width="1.25"/>
<line x1="439.3" y1="519.3" x2="439.3" y2="523.1" stroke="#000" stroke-width="1.25"/>
<line x1="437.65" y1="520.25" x2="440.95" y2="522.15" stroke="#000" stroke-width="1.25"/>
<line x1="437.65" y1="522.15" x2="440.95" y2="520.25" stroke="#000" stroke-width="1.25"/>
<line x1="443.5" y1="519.3" x2="443.5" y2="523.1" stroke="#000" stroke-width="1.25"/>
<line x1="441.85" y1="520.25" x2="445.15" y2="522.15" stroke="#000" stroke-width="1.25"/>
<line x1="441.85" y1="522.15" x2="445.15" y2="520.25" stroke="#000" stroke-width="1.25"/>
<line x1="471.5" y1="530.16" x2="471.5" y2="527.52" stroke="#000" stroke-width="1.3"/>
<line x1="464.7" y1="527.52" x2="478.3" y2="527.52" stroke="#000" stroke-width="1.3"/>
<rect x="458.4" y="530.16" width="26.2" height="5.94" fill="#000" stroke="#000" stroke-width="1.2"/>
<line x1="471.5" y1="536.1" x2="471.5" y2="538.7" stroke="#000" stroke-width="1.3"/>
<text x="0" y="0" font-size="6.5" text-anchor="end" dy="0.3em" transform="translate(472.7,545.7) rotate(-45)">HL-60</text>
<line x1="469.4" y1="518.4" x2="469.4" y2="522.2" stroke="#000" stroke-width="1.25"/>
<line x1="467.75" y1="519.35" x2="471.05" y2="521.25" stroke="#000" stroke-width="1.25"/>
<line x1="467.75" y1="521.25" x2="471.05" y2="519.35" stroke="#000" stroke-width="1.25"/>
<line x1="473.6" y1="518.4" x2="473.6" y2="522.2" stroke="#000" stroke-width="1.25"/>
<line x1="471.95" y1="519.35" x2="475.25" y2="521.25" stroke="#000" stroke-width="1.25"/>
<line x1="471.95" y1="521.25" x2="475.25" y2="519.35" stroke="#000" stroke-width="1.25"/>
<text x="0" y="0" font-size="6.78" text-anchor="middle" dy="0.36em" transform="translate(304.2,495.7) rotate(-90)"><tspan font-weight="bold">[Rotenone]</tspan> at EC50 of OCR (nM)</text>
<text x="0.2" y="561.5" font-size="13.6" text-anchor="start" dy="0.72em" font-weight="bold">G</text>
<line x1="50" y1="596.25" x2="50" y2="678" stroke="#000" stroke-width="1.3"/>
<line x1="47.4" y1="678" x2="50" y2="678" stroke="#000" stroke-width="1.3"/>
<text x="47" y="678" font-size="6.4" text-anchor="end" dy="0.36em">0</text>
<line x1="47.4" y1="657.55" x2="50" y2="657.55" stroke="#000" stroke-width="1.3"/>
<text x="47" y="657.55" font-size="6.4" text-anchor="end" dy="0.36em">20</text>
<line x1="47.4" y1="637.1" x2="50" y2="637.1" stroke="#000" stroke-width="1.3"/>
<text x="47" y="637.1" font-size="6.4" text-anchor="end" dy="0.36em">40</text>
<line x1="47.4" y1="616.65" x2="50" y2="616.65" stroke="#000" stroke-width="1.3"/>
<text x="47" y="616.65" font-size="6.4" text-anchor="end" dy="0.36em">60</text>
<line x1="47.4" y1="596.2" x2="50" y2="596.2" stroke="#000" stroke-width="1.3"/>
<text x="47" y="596.2" font-size="6.4" text-anchor="end" dy="0.36em">80</text>
<line x1="50" y1="678" x2="211.25" y2="678" stroke="#000" stroke-width="1.3"/>
<line x1="66.3" y1="648.35" x2="66.3" y2="644.26" stroke="#000" stroke-width="1.3"/>
<line x1="59.5" y1="644.26" x2="73.1" y2="644.26" stroke="#000" stroke-width="1.3"/>
<rect x="53.25" y="648.35" width="26.1" height="29.65" fill="#d3d3d3" stroke="#000" stroke-width="1.2"/>
<line x1="66.3" y1="678" x2="66.3" y2="680.6" stroke="#000" stroke-width="1.3"/>
<text x="0" y="0" font-size="6.5" text-anchor="end" dy="0.3em" transform="translate(67.5,687.6) rotate(-45)">Normal</text>
<line x1="98.74" y1="621.76" x2="98.74" y2="607.96" stroke="#000" stroke-width="1.3"/>
<line x1="91.94" y1="607.96" x2="105.54" y2="607.96" stroke="#000" stroke-width="1.3"/>
<rect x="85.69" y="621.76" width="26.1" height="56.24" fill="#d3d3d3" stroke="#000" stroke-width="1.2"/>
<line x1="98.74" y1="678" x2="98.74" y2="680.6" stroke="#000" stroke-width="1.3"/>
<text x="0" y="0" font-size="6.5" text-anchor="end" dy="0.3em" transform="translate(99.94,687.6) rotate(-45)">MCF-7</text>
<line x1="131.18" y1="651.41" x2="131.18" y2="633.01" stroke="#000" stroke-width="1.3"/>
<line x1="124.38" y1="633.01" x2="137.98" y2="633.01" stroke="#000" stroke-width="1.3"/>
<rect x="118.13" y="651.41" width="26.1" height="26.59" fill="#d3d3d3" stroke="#000" stroke-width="1.2"/>
<line x1="131.18" y1="678" x2="131.18" y2="680.6" stroke="#000" stroke-width="1.3"/>
<text x="0" y="0" font-size="6.5" text-anchor="end" dy="0.3em" transform="translate(132.38,687.6) rotate(-45)">OVCAR-3</text>
<line x1="163.62" y1="667.98" x2="163.62" y2="666.24" stroke="#000" stroke-width="1.3"/>
<line x1="156.82" y1="666.24" x2="170.42" y2="666.24" stroke="#000" stroke-width="1.3"/>
<rect x="150.57" y="667.98" width="26.1" height="10.02" fill="#000" stroke="#000" stroke-width="1.2"/>
<line x1="163.62" y1="678" x2="163.62" y2="680.6" stroke="#000" stroke-width="1.3"/>
<text x="0" y="0" font-size="6.5" text-anchor="end" dy="0.3em" transform="translate(164.82,687.6) rotate(-45)">OCI-AML-2</text>
<line x1="161.52" y1="656.85" x2="161.52" y2="660.65" stroke="#000" stroke-width="1.25"/>
<line x1="159.87" y1="657.8" x2="163.17" y2="659.7" stroke="#000" stroke-width="1.25"/>
<line x1="159.87" y1="659.7" x2="163.17" y2="657.8" stroke="#000" stroke-width="1.25"/>
<line x1="165.72" y1="656.85" x2="165.72" y2="660.65" stroke="#000" stroke-width="1.25"/>
<line x1="164.07" y1="657.8" x2="167.37" y2="659.7" stroke="#000" stroke-width="1.25"/>
<line x1="164.07" y1="659.7" x2="167.37" y2="657.8" stroke="#000" stroke-width="1.25"/>
<line x1="196.06" y1="668.18" x2="196.06" y2="666.24" stroke="#000" stroke-width="1.3"/>
<line x1="189.26" y1="666.24" x2="202.86" y2="666.24" stroke="#000" stroke-width="1.3"/>
<rect x="183.01" y="668.18" width="26.1" height="9.82" fill="#000" stroke="#000" stroke-width="1.2"/>
<line x1="196.06" y1="678" x2="196.06" y2="680.6" stroke="#000" stroke-width="1.3"/>
<text x="0" y="0" font-size="6.5" text-anchor="end" dy="0.3em" transform="translate(197.26,687.6) rotate(-45)">HL-60</text>
<line x1="193.96" y1="656.85" x2="193.96" y2="660.65" stroke="#000" stroke-width="1.25"/>
<line x1="192.31" y1="657.8" x2="195.61" y2="659.7" stroke="#000" stroke-width="1.25"/>
<line x1="192.31" y1="659.7" x2="195.61" y2="657.8" stroke="#000" stroke-width="1.25"/>
<line x1="198.16" y1="656.85" x2="198.16" y2="660.65" stroke="#000" stroke-width="1.25"/>
<line x1="196.51" y1="657.8" x2="199.81" y2="659.7" stroke="#000" stroke-width="1.25"/>
<line x1="196.51" y1="659.7" x2="199.81" y2="657.8" stroke="#000" stroke-width="1.25"/>
<text x="0" y="0" font-size="6.78" text-anchor="middle" dy="0.36em" transform="translate(33,636.9) rotate(-90)"><tspan font-weight="bold">[Antimycin]</tspan> at EC50 of OCR (nM)</text>
<text x="277.6" y="577.3" font-size="13.6" text-anchor="start" dy="0.72em" font-weight="bold">H</text>
<line x1="325.5" y1="598.25" x2="325.5" y2="678" stroke="#000" stroke-width="1.3"/>
<line x1="322.9" y1="678" x2="325.5" y2="678" stroke="#000" stroke-width="1.3"/>
<text x="322.5" y="678" font-size="6.4" text-anchor="end" dy="0.36em">0</text>
<line x1="322.9" y1="666.72" x2="325.5" y2="666.72" stroke="#000" stroke-width="1.3"/>
<text x="322.5" y="666.72" font-size="6.4" text-anchor="end" dy="0.36em">50</text>
<line x1="322.9" y1="655.43" x2="325.5" y2="655.43" stroke="#000" stroke-width="1.3"/>
<text x="322.5" y="655.43" font-size="6.4" text-anchor="end" dy="0.36em">100</text>
<line x1="322.9" y1="644.14" x2="325.5" y2="644.14" stroke="#000" stroke-width="1.3"/>
<text x="322.5" y="644.14" font-size="6.4" text-anchor="end" dy="0.36em">150</text>
<line x1="322.9" y1="632.86" x2="325.5" y2="632.86" stroke="#000" stroke-width="1.3"/>
<text x="322.5" y="632.86" font-size="6.4" text-anchor="end" dy="0.36em">200</text>
<line x1="322.9" y1="621.58" x2="325.5" y2="621.58" stroke="#000" stroke-width="1.3"/>
<text x="322.5" y="621.58" font-size="6.4" text-anchor="end" dy="0.36em">250</text>
<line x1="322.9" y1="610.29" x2="325.5" y2="610.29" stroke="#000" stroke-width="1.3"/>
<text x="322.5" y="610.29" font-size="6.4" text-anchor="end" dy="0.36em">300</text>
<line x1="322.9" y1="599" x2="325.5" y2="599" stroke="#000" stroke-width="1.3"/>
<text x="322.5" y="599" font-size="6.4" text-anchor="end" dy="0.36em">350</text>
<line x1="325.5" y1="678" x2="487" y2="678" stroke="#000" stroke-width="1.3"/>
<line x1="341.75" y1="640.76" x2="341.75" y2="632.86" stroke="#000" stroke-width="1.3"/>
<line x1="334.95" y1="632.86" x2="348.55" y2="632.86" stroke="#000" stroke-width="1.3"/>
<rect x="328.75" y="640.76" width="26" height="37.24" fill="#d3d3d3" stroke="#000" stroke-width="1.2"/>
<line x1="341.75" y1="678" x2="341.75" y2="680.6" stroke="#000" stroke-width="1.3"/>
<text x="0" y="0" font-size="6.5" text-anchor="end" dy="0.3em" transform="translate(342.95,687.6) rotate(-45)">Normal</text>
<line x1="373.94" y1="624.51" x2="373.94" y2="599.46" stroke="#000" stroke-width="1.3"/>
<line x1="367.14" y1="599.46" x2="380.74" y2="599.46" stroke="#000" stroke-width="1.3"/>
<rect x="360.94" y="624.51" width="26" height="53.49" fill="#d3d3d3" stroke="#000" stroke-width="1.2"/>
<line x1="373.94" y1="678" x2="373.94" y2="680.6" stroke="#000" stroke-width="1.3"/>
<text x="0" y="0" font-size="6.5" text-anchor="end" dy="0.3em" transform="translate(375.14,687.6) rotate(-45)">MCF-7</text>
<line x1="406.13" y1="636.92" x2="406.13" y2="630.6" stroke="#000" stroke-width="1.3"/>
<line x1="399.33" y1="630.6" x2="412.93" y2="630.6" stroke="#000" stroke-width="1.3"/>
<rect x="393.13" y="636.92" width="26" height="41.08" fill="#d3d3d3" stroke="#000" stroke-width="1.2"/>
<line x1="406.13" y1="678" x2="406.13" y2="680.6" stroke="#000" stroke-width="1.3"/>
<text x="0" y="0" font-size="6.5" text-anchor="end" dy="0.3em" transform="translate(407.33,687.6) rotate(-45)">OVCAR-3</text>
<line x1="438.32" y1="667.17" x2="438.32" y2="665.59" stroke="#000" stroke-width="1.3"/>
<line x1="431.52" y1="665.59" x2="445.12" y2="665.59" stroke="#000" stroke-width="1.3"/>
<rect x="425.32" y="667.17" width="26" height="10.83" fill="#000" stroke="#000" stroke-width="1.2"/>
<line x1="438.32" y1="678" x2="438.32" y2="680.6" stroke="#000" stroke-width="1.3"/>
<text x="0" y="0" font-size="6.5" text-anchor="end" dy="0.3em" transform="translate(439.52,687.6) rotate(-45)">OCI-AML-2</text>
<line x1="436.22" y1="656.85" x2="436.22" y2="660.65" stroke="#000" stroke-width="1.25"/>
<line x1="434.57" y1="657.8" x2="437.87" y2="659.7" stroke="#000" stroke-width="1.25"/>
<line x1="434.57" y1="659.7" x2="437.87" y2="657.8" stroke="#000" stroke-width="1.25"/>
<line x1="440.42" y1="656.85" x2="440.42" y2="660.65" stroke="#000" stroke-width="1.25"/>
<line x1="438.77" y1="657.8" x2="442.07" y2="659.7" stroke="#000" stroke-width="1.25"/>
<line x1="438.77" y1="659.7" x2="442.07" y2="657.8" stroke="#000" stroke-width="1.25"/>
<line x1="470.51" y1="671.23" x2="470.51" y2="667.62" stroke="#000" stroke-width="1.3"/>
<line x1="463.71" y1="667.62" x2="477.31" y2="667.62" stroke="#000" stroke-width="1.3"/>
<rect x="457.51" y="671.23" width="26" height="6.77" fill="#000" stroke="#000" stroke-width="1.2"/>
<line x1="470.51" y1="678" x2="470.51" y2="680.6" stroke="#000" stroke-width="1.3"/>
<text x="0" y="0" font-size="6.5" text-anchor="end" dy="0.3em" transform="translate(471.71,687.6) rotate(-45)">HL-60</text>
<line x1="468.41" y1="658.1" x2="468.41" y2="661.9" stroke="#000" stroke-width="1.25"/>
<line x1="466.76" y1="659.05" x2="470.06" y2="660.95" stroke="#000" stroke-width="1.25"/>
<line x1="466.76" y1="660.95" x2="470.06" y2="659.05" stroke="#000" stroke-width="1.25"/>
<line x1="472.61" y1="658.1" x2="472.61" y2="661.9" stroke="#000" stroke-width="1.25"/>
<line x1="470.96" y1="659.05" x2="474.26" y2="660.95" stroke="#000" stroke-width="1.25"/>
<line x1="470.96" y1="660.95" x2="474.26" y2="659.05" stroke="#000" stroke-width="1.25"/>
<text x="0" y="0" font-size="6.59" text-anchor="middle" dy="0.36em" transform="translate(302.1,635.1) rotate(-90)"><tspan font-weight="bold">[Oligomycin]</tspan> at EC50 of OCR (nM)</text>
</svg></div>
</body></html>
